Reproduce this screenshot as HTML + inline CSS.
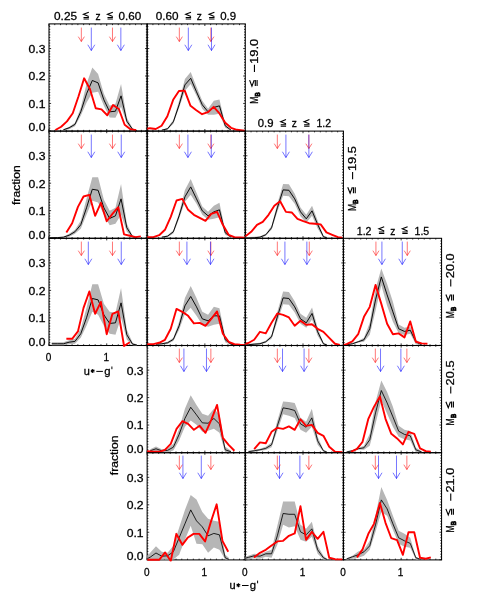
<!DOCTYPE html>
<html><head><meta charset="utf-8"><title>fraction vs u*-g'</title>
<style>
html,body{margin:0;padding:0;background:#fff;}
body{width:491px;height:596px;overflow:hidden;}
svg{display:block;}
text{font-family:"Liberation Sans",sans-serif;fill:#000;stroke:#000;stroke-width:0.26px;}
</style></head><body>
<svg width="491" height="596" viewBox="0 0 491 596">
<rect width="491" height="596" fill="#fff"/>
<defs>
<filter id="bl" x="0" y="0" width="491" height="596" filterUnits="userSpaceOnUse"><feGaussianBlur stdDeviation="0.32"/></filter>
<clipPath id="c11"><rect x="48.8" y="22.9" width="99.44" height="109.8"/></clipPath>
<clipPath id="c12"><rect x="146.94" y="22.9" width="99.44" height="109.8"/></clipPath>
<clipPath id="c21"><rect x="48.8" y="130.1" width="99.44" height="109.8"/></clipPath>
<clipPath id="c22"><rect x="146.94" y="130.1" width="99.44" height="109.8"/></clipPath>
<clipPath id="c23"><rect x="245.08" y="130.1" width="99.44" height="109.8"/></clipPath>
<clipPath id="c31"><rect x="48.8" y="237.3" width="99.44" height="109.8"/></clipPath>
<clipPath id="c32"><rect x="146.94" y="237.3" width="99.44" height="109.8"/></clipPath>
<clipPath id="c33"><rect x="245.08" y="237.3" width="99.44" height="109.8"/></clipPath>
<clipPath id="c34"><rect x="343.22" y="237.3" width="99.44" height="109.8"/></clipPath>
<clipPath id="c42"><rect x="146.94" y="344.5" width="99.44" height="109.8"/></clipPath>
<clipPath id="c43"><rect x="245.08" y="344.5" width="99.44" height="109.8"/></clipPath>
<clipPath id="c44"><rect x="343.22" y="344.5" width="99.44" height="109.8"/></clipPath>
<clipPath id="c52"><rect x="146.94" y="451.7" width="99.44" height="109.8"/></clipPath>
<clipPath id="c53"><rect x="245.08" y="451.7" width="99.44" height="109.8"/></clipPath>
<clipPath id="c54"><rect x="343.22" y="451.7" width="99.44" height="109.8"/></clipPath>
</defs>
<g filter="url(#bl)">
<rect x="49" y="23.9" width="98.14" height="107.2" fill="none" stroke="#000" stroke-width="1.05"/>
<path d="M49 23.9v2.1M49 131.1v-2.1M54.77 23.9v1.25M54.77 131.1v-1.25M60.55 23.9v1.25M60.55 131.1v-1.25M66.32 23.9v1.25M66.32 131.1v-1.25M72.09 23.9v1.25M72.09 131.1v-1.25M77.86 23.9v1.25M77.86 131.1v-1.25M83.64 23.9v1.25M83.64 131.1v-1.25M89.41 23.9v1.25M89.41 131.1v-1.25M95.18 23.9v1.25M95.18 131.1v-1.25M100.96 23.9v1.25M100.96 131.1v-1.25M106.73 23.9v2.1M106.73 131.1v-2.1M112.5 23.9v1.25M112.5 131.1v-1.25M118.28 23.9v1.25M118.28 131.1v-1.25M124.05 23.9v1.25M124.05 131.1v-1.25M129.82 23.9v1.25M129.82 131.1v-1.25M135.59 23.9v1.25M135.59 131.1v-1.25M141.37 23.9v1.25M141.37 131.1v-1.25M147.14 23.9v1.25M147.14 131.1v-1.25M49 130.9h2.1M147.14 130.9h-2.1M49 128.16h1.25M147.14 128.16h-1.25M49 125.41h1.25M147.14 125.41h-1.25M49 122.67h1.25M147.14 122.67h-1.25M49 119.92h1.25M147.14 119.92h-1.25M49 117.18h1.25M147.14 117.18h-1.25M49 114.43h1.25M147.14 114.43h-1.25M49 111.69h1.25M147.14 111.69h-1.25M49 108.94h1.25M147.14 108.94h-1.25M49 106.2h1.25M147.14 106.2h-1.25M49 103.45h2.1M147.14 103.45h-2.1M49 100.71h1.25M147.14 100.71h-1.25M49 97.96h1.25M147.14 97.96h-1.25M49 95.22h1.25M147.14 95.22h-1.25M49 92.47h1.25M147.14 92.47h-1.25M49 89.73h1.25M147.14 89.73h-1.25M49 86.98h1.25M147.14 86.98h-1.25M49 84.23h1.25M147.14 84.23h-1.25M49 81.49h1.25M147.14 81.49h-1.25M49 78.75h1.25M147.14 78.75h-1.25M49 76h2.1M147.14 76h-2.1M49 73.26h1.25M147.14 73.26h-1.25M49 70.51h1.25M147.14 70.51h-1.25M49 67.77h1.25M147.14 67.77h-1.25M49 65.02h1.25M147.14 65.02h-1.25M49 62.28h1.25M147.14 62.28h-1.25M49 59.53h1.25M147.14 59.53h-1.25M49 56.78h1.25M147.14 56.78h-1.25M49 54.04h1.25M147.14 54.04h-1.25M49 51.3h1.25M147.14 51.3h-1.25M49 48.55h2.1M147.14 48.55h-2.1M49 45.81h1.25M147.14 45.81h-1.25M49 43.06h1.25M147.14 43.06h-1.25M49 40.31h1.25M147.14 40.31h-1.25M49 37.57h1.25M147.14 37.57h-1.25M49 34.83h1.25M147.14 34.83h-1.25M49 32.08h1.25M147.14 32.08h-1.25M49 29.34h1.25M147.14 29.34h-1.25M49 26.59h1.25M147.14 26.59h-1.25" stroke="#000" stroke-width="0.8" fill="none"/>
<g clip-path="url(#c11)">
<polygon points="63.37,129.38 69.16,126.79 74.95,122.8 80.74,107.83 86.52,83.88 92.31,67.51 98.1,73.9 103.89,93.86 109.68,105.83 115.46,103.84 121.05,83.88 126.84,117.81 132.63,128.19 136.82,130.18 136.82,130.98 132.63,130.38 126.84,123.8 121.05,106.83 115.46,117.81 109.68,117.41 103.89,105.83 98.1,91.86 92.31,92.86 86.52,102.84 80.74,115.81 74.95,126.19 69.16,129.19 63.37,130.58" fill="#b6b6b6"/>
<polyline points="63.37,129.78 69.16,127.79 74.95,124.4 80.74,111.82 86.52,93.86 92.31,80.48 98.1,82.88 103.89,99.85 109.68,111.82 115.46,111.22 121.05,95.85 126.84,121.2 132.63,129.38 136.82,130.58" fill="none" stroke="#000" stroke-width="0.95" stroke-linejoin="miter"/>
<polyline points="55.39,129.98 61.18,126.79 66.96,121.4 72.75,113.22 78.54,96.25 84.13,78.29 89.92,89.07 95.7,108.23 101.49,109.43 107.28,115.21 113.07,105.03 118.86,109.03 124.65,124.79 130.43,129.19 136.22,130.18" fill="none" stroke="#ff0000" stroke-width="1.9" stroke-linejoin="round" stroke-linecap="butt"/>
</g>
<path d="M81.33 27.59 V41.56 M78.28 36.66 L81.33 41.56 L84.38 36.66" fill="none" stroke="#ff0000" stroke-width="0.72" opacity="0.75"/>
<path d="M112.47 27.59 V41.56 M109.42 36.66 L112.47 41.56 L115.52 36.66" fill="none" stroke="#ff0000" stroke-width="0.72" opacity="0.75"/>
<path d="M91.31 27.59 V50.55 M87.81 44.75 L91.31 50.55 L94.81 44.75" fill="none" stroke="#0000ff" stroke-width="0.72" opacity="0.75"/>
<path d="M120.85 27.59 V50.55 M117.35 44.75 L120.85 50.55 L124.35 44.75" fill="none" stroke="#0000ff" stroke-width="0.72" opacity="0.75"/>
<rect x="147.14" y="23.9" width="98.14" height="107.2" fill="none" stroke="#000" stroke-width="1.05"/>
<path d="M147.14 23.9v2.1M147.14 131.1v-2.1M152.91 23.9v1.25M152.91 131.1v-1.25M158.69 23.9v1.25M158.69 131.1v-1.25M164.46 23.9v1.25M164.46 131.1v-1.25M170.23 23.9v1.25M170.23 131.1v-1.25M176 23.9v1.25M176 131.1v-1.25M181.78 23.9v1.25M181.78 131.1v-1.25M187.55 23.9v1.25M187.55 131.1v-1.25M193.32 23.9v1.25M193.32 131.1v-1.25M199.1 23.9v1.25M199.1 131.1v-1.25M204.87 23.9v2.1M204.87 131.1v-2.1M210.64 23.9v1.25M210.64 131.1v-1.25M216.42 23.9v1.25M216.42 131.1v-1.25M222.19 23.9v1.25M222.19 131.1v-1.25M227.96 23.9v1.25M227.96 131.1v-1.25M233.73 23.9v1.25M233.73 131.1v-1.25M239.51 23.9v1.25M239.51 131.1v-1.25M245.28 23.9v1.25M245.28 131.1v-1.25M147.14 130.9h2.1M245.28 130.9h-2.1M147.14 128.16h1.25M245.28 128.16h-1.25M147.14 125.41h1.25M245.28 125.41h-1.25M147.14 122.67h1.25M245.28 122.67h-1.25M147.14 119.92h1.25M245.28 119.92h-1.25M147.14 117.18h1.25M245.28 117.18h-1.25M147.14 114.43h1.25M245.28 114.43h-1.25M147.14 111.69h1.25M245.28 111.69h-1.25M147.14 108.94h1.25M245.28 108.94h-1.25M147.14 106.2h1.25M245.28 106.2h-1.25M147.14 103.45h2.1M245.28 103.45h-2.1M147.14 100.71h1.25M245.28 100.71h-1.25M147.14 97.96h1.25M245.28 97.96h-1.25M147.14 95.22h1.25M245.28 95.22h-1.25M147.14 92.47h1.25M245.28 92.47h-1.25M147.14 89.73h1.25M245.28 89.73h-1.25M147.14 86.98h1.25M245.28 86.98h-1.25M147.14 84.23h1.25M245.28 84.23h-1.25M147.14 81.49h1.25M245.28 81.49h-1.25M147.14 78.75h1.25M245.28 78.75h-1.25M147.14 76h2.1M245.28 76h-2.1M147.14 73.26h1.25M245.28 73.26h-1.25M147.14 70.51h1.25M245.28 70.51h-1.25M147.14 67.77h1.25M245.28 67.77h-1.25M147.14 65.02h1.25M245.28 65.02h-1.25M147.14 62.28h1.25M245.28 62.28h-1.25M147.14 59.53h1.25M245.28 59.53h-1.25M147.14 56.78h1.25M245.28 56.78h-1.25M147.14 54.04h1.25M245.28 54.04h-1.25M147.14 51.3h1.25M245.28 51.3h-1.25M147.14 48.55h2.1M245.28 48.55h-2.1M147.14 45.81h1.25M245.28 45.81h-1.25M147.14 43.06h1.25M245.28 43.06h-1.25M147.14 40.31h1.25M245.28 40.31h-1.25M147.14 37.57h1.25M245.28 37.57h-1.25M147.14 34.83h1.25M245.28 34.83h-1.25M147.14 32.08h1.25M245.28 32.08h-1.25M147.14 29.34h1.25M245.28 29.34h-1.25M147.14 26.59h1.25M245.28 26.59h-1.25" stroke="#000" stroke-width="0.8" fill="none"/>
<g clip-path="url(#c12)">
<polygon points="161.77,129.78 167.56,127.79 173.35,119.8 179.13,100.84 184.92,78.89 190.71,71.9 196.5,86.87 202.29,100.84 208.08,108.83 213.86,100.84 219.45,99.45 225.24,123.8 231.03,129.78 231.03,130.78 225.24,127.79 219.45,113.82 213.86,114.81 208.08,114.81 202.29,108.83 196.5,95.85 190.71,83.88 184.92,90.86 179.13,107.83 173.35,123.8 167.56,129.78 161.77,130.78" fill="#b6b6b6"/>
<polyline points="161.77,130.18 167.56,128.79 173.35,121.8 179.13,104.84 184.92,84.88 190.71,78.29 196.5,91.86 202.29,104.84 208.08,111.82 213.86,107.43 219.45,105.83 225.24,125.79 231.03,130.18" fill="none" stroke="#000" stroke-width="0.95" stroke-linejoin="miter"/>
<polyline points="147.2,128.79 149.99,128.19 155.78,128.99 161.57,125.79 167.36,116.21 173.15,99.85 178.93,91.06 184.72,90.66 190.51,105.83 196.3,110.22 202.09,114.22 207.88,112.22 213.66,106.83 219.45,113.42 225.24,122.8 231.03,127.79 236.82,129.78 242.6,130.38 244.8,130.58" fill="none" stroke="#ff0000" stroke-width="1.9" stroke-linejoin="round" stroke-linecap="butt"/>
</g>
<path d="M179.33 27.59 V41.56 M176.28 36.66 L179.33 41.56 L182.38 36.66" fill="none" stroke="#ff0000" stroke-width="0.72" opacity="0.75"/>
<path d="M210.87 27.59 V41.56 M207.82 36.66 L210.87 41.56 L213.92 36.66" fill="none" stroke="#ff0000" stroke-width="0.72" opacity="0.75"/>
<path d="M188.32 27.59 V50.55 M184.82 44.75 L188.32 50.55 L191.82 44.75" fill="none" stroke="#0000ff" stroke-width="0.72" opacity="0.75"/>
<path d="M211.47 27.59 V50.55 M207.97 44.75 L211.47 50.55 L214.97 44.75" fill="none" stroke="#0000ff" stroke-width="0.72" opacity="0.75"/>
<rect x="49" y="131.1" width="98.14" height="107.2" fill="none" stroke="#000" stroke-width="1.05"/>
<path d="M49 131.1v2.1M49 238.3v-2.1M54.77 131.1v1.25M54.77 238.3v-1.25M60.55 131.1v1.25M60.55 238.3v-1.25M66.32 131.1v1.25M66.32 238.3v-1.25M72.09 131.1v1.25M72.09 238.3v-1.25M77.86 131.1v1.25M77.86 238.3v-1.25M83.64 131.1v1.25M83.64 238.3v-1.25M89.41 131.1v1.25M89.41 238.3v-1.25M95.18 131.1v1.25M95.18 238.3v-1.25M100.96 131.1v1.25M100.96 238.3v-1.25M106.73 131.1v2.1M106.73 238.3v-2.1M112.5 131.1v1.25M112.5 238.3v-1.25M118.28 131.1v1.25M118.28 238.3v-1.25M124.05 131.1v1.25M124.05 238.3v-1.25M129.82 131.1v1.25M129.82 238.3v-1.25M135.59 131.1v1.25M135.59 238.3v-1.25M141.37 131.1v1.25M141.37 238.3v-1.25M147.14 131.1v1.25M147.14 238.3v-1.25M49 238.1h2.1M147.14 238.1h-2.1M49 235.36h1.25M147.14 235.36h-1.25M49 232.61h1.25M147.14 232.61h-1.25M49 229.87h1.25M147.14 229.87h-1.25M49 227.12h1.25M147.14 227.12h-1.25M49 224.38h1.25M147.14 224.38h-1.25M49 221.63h1.25M147.14 221.63h-1.25M49 218.89h1.25M147.14 218.89h-1.25M49 216.14h1.25M147.14 216.14h-1.25M49 213.4h1.25M147.14 213.4h-1.25M49 210.65h2.1M147.14 210.65h-2.1M49 207.91h1.25M147.14 207.91h-1.25M49 205.16h1.25M147.14 205.16h-1.25M49 202.42h1.25M147.14 202.42h-1.25M49 199.67h1.25M147.14 199.67h-1.25M49 196.93h1.25M147.14 196.93h-1.25M49 194.18h1.25M147.14 194.18h-1.25M49 191.44h1.25M147.14 191.44h-1.25M49 188.69h1.25M147.14 188.69h-1.25M49 185.95h1.25M147.14 185.95h-1.25M49 183.2h2.1M147.14 183.2h-2.1M49 180.46h1.25M147.14 180.46h-1.25M49 177.71h1.25M147.14 177.71h-1.25M49 174.97h1.25M147.14 174.97h-1.25M49 172.22h1.25M147.14 172.22h-1.25M49 169.48h1.25M147.14 169.48h-1.25M49 166.73h1.25M147.14 166.73h-1.25M49 163.99h1.25M147.14 163.99h-1.25M49 161.24h1.25M147.14 161.24h-1.25M49 158.5h1.25M147.14 158.5h-1.25M49 155.75h2.1M147.14 155.75h-2.1M49 153.01h1.25M147.14 153.01h-1.25M49 150.26h1.25M147.14 150.26h-1.25M49 147.52h1.25M147.14 147.52h-1.25M49 144.77h1.25M147.14 144.77h-1.25M49 142.03h1.25M147.14 142.03h-1.25M49 139.28h1.25M147.14 139.28h-1.25M49 136.54h1.25M147.14 136.54h-1.25M49 133.79h1.25M147.14 133.79h-1.25" stroke="#000" stroke-width="0.8" fill="none"/>
<g clip-path="url(#c21)">
<polygon points="49.4,237.38 57.58,236.98 63.37,236.78 69.16,233.79 74.95,229.8 80.74,220.82 86.52,198.86 92.31,177.31 98.1,177.31 103.89,199.86 109.68,210.84 115.46,207.84 121.05,183.89 126.84,223.81 132.63,235.79 136.82,237.38 136.82,237.98 132.63,237.78 126.84,231.79 121.05,214.83 115.46,223.81 109.68,225.21 103.89,214.83 98.1,202.45 92.31,200.86 86.52,214.83 80.74,228.8 74.95,233.79 69.16,236.78 63.37,237.78 57.58,238.18 49.4,238.18" fill="#b6b6b6"/>
<polyline points="49.4,237.78 57.58,237.58 63.37,237.18 69.16,235.19 74.95,231.79 80.74,224.81 86.52,207.84 92.31,189.28 98.1,190.28 103.89,207.84 109.68,218.42 115.46,215.83 121.05,198.86 126.84,227.8 132.63,236.78 136.82,237.78" fill="none" stroke="#000" stroke-width="0.95" stroke-linejoin="miter"/>
<polyline points="66.36,232.39 72.15,223.21 77.94,206.85 83.53,196.47 89.32,194.87 95.11,215.83 100.89,202.85 106.68,221.22 112.47,213.83 118.26,207.24 124.05,234.39 129.84,235.79 135.62,237.18 140.81,236.38" fill="none" stroke="#ff0000" stroke-width="1.9" stroke-linejoin="round" stroke-linecap="butt"/>
</g>
<path d="M81.33 134.59 V148.56 M78.28 143.66 L81.33 148.56 L84.38 143.66" fill="none" stroke="#ff0000" stroke-width="0.72" opacity="0.75"/>
<path d="M112.47 134.59 V148.56 M109.42 143.66 L112.47 148.56 L115.52 143.66" fill="none" stroke="#ff0000" stroke-width="0.72" opacity="0.75"/>
<path d="M91.31 134.59 V157.55 M87.81 151.75 L91.31 157.55 L94.81 151.75" fill="none" stroke="#0000ff" stroke-width="0.72" opacity="0.75"/>
<path d="M121.25 134.59 V157.55 M117.75 151.75 L121.25 157.55 L124.75 151.75" fill="none" stroke="#0000ff" stroke-width="0.72" opacity="0.75"/>
<rect x="147.14" y="131.1" width="98.14" height="107.2" fill="none" stroke="#000" stroke-width="1.05"/>
<path d="M147.14 131.1v2.1M147.14 238.3v-2.1M152.91 131.1v1.25M152.91 238.3v-1.25M158.69 131.1v1.25M158.69 238.3v-1.25M164.46 131.1v1.25M164.46 238.3v-1.25M170.23 131.1v1.25M170.23 238.3v-1.25M176 131.1v1.25M176 238.3v-1.25M181.78 131.1v1.25M181.78 238.3v-1.25M187.55 131.1v1.25M187.55 238.3v-1.25M193.32 131.1v1.25M193.32 238.3v-1.25M199.1 131.1v1.25M199.1 238.3v-1.25M204.87 131.1v2.1M204.87 238.3v-2.1M210.64 131.1v1.25M210.64 238.3v-1.25M216.42 131.1v1.25M216.42 238.3v-1.25M222.19 131.1v1.25M222.19 238.3v-1.25M227.96 131.1v1.25M227.96 238.3v-1.25M233.73 131.1v1.25M233.73 238.3v-1.25M239.51 131.1v1.25M239.51 238.3v-1.25M245.28 131.1v1.25M245.28 238.3v-1.25M147.14 238.1h2.1M245.28 238.1h-2.1M147.14 235.36h1.25M245.28 235.36h-1.25M147.14 232.61h1.25M245.28 232.61h-1.25M147.14 229.87h1.25M245.28 229.87h-1.25M147.14 227.12h1.25M245.28 227.12h-1.25M147.14 224.38h1.25M245.28 224.38h-1.25M147.14 221.63h1.25M245.28 221.63h-1.25M147.14 218.89h1.25M245.28 218.89h-1.25M147.14 216.14h1.25M245.28 216.14h-1.25M147.14 213.4h1.25M245.28 213.4h-1.25M147.14 210.65h2.1M245.28 210.65h-2.1M147.14 207.91h1.25M245.28 207.91h-1.25M147.14 205.16h1.25M245.28 205.16h-1.25M147.14 202.42h1.25M245.28 202.42h-1.25M147.14 199.67h1.25M245.28 199.67h-1.25M147.14 196.93h1.25M245.28 196.93h-1.25M147.14 194.18h1.25M245.28 194.18h-1.25M147.14 191.44h1.25M245.28 191.44h-1.25M147.14 188.69h1.25M245.28 188.69h-1.25M147.14 185.95h1.25M245.28 185.95h-1.25M147.14 183.2h2.1M245.28 183.2h-2.1M147.14 180.46h1.25M245.28 180.46h-1.25M147.14 177.71h1.25M245.28 177.71h-1.25M147.14 174.97h1.25M245.28 174.97h-1.25M147.14 172.22h1.25M245.28 172.22h-1.25M147.14 169.48h1.25M245.28 169.48h-1.25M147.14 166.73h1.25M245.28 166.73h-1.25M147.14 163.99h1.25M245.28 163.99h-1.25M147.14 161.24h1.25M245.28 161.24h-1.25M147.14 158.5h1.25M245.28 158.5h-1.25M147.14 155.75h2.1M245.28 155.75h-2.1M147.14 153.01h1.25M245.28 153.01h-1.25M147.14 150.26h1.25M245.28 150.26h-1.25M147.14 147.52h1.25M245.28 147.52h-1.25M147.14 144.77h1.25M245.28 144.77h-1.25M147.14 142.03h1.25M245.28 142.03h-1.25M147.14 139.28h1.25M245.28 139.28h-1.25M147.14 136.54h1.25M245.28 136.54h-1.25M147.14 133.79h1.25M245.28 133.79h-1.25" stroke="#000" stroke-width="0.8" fill="none"/>
<g clip-path="url(#c22)">
<polygon points="161.77,236.78 167.56,235.19 173.35,230.2 179.13,212.83 184.92,189.88 190.71,178.9 196.5,192.87 202.29,206.45 208.08,211.84 213.86,205.85 219.45,202.85 225.24,230.8 231.03,236.78 231.03,237.78 225.24,234.79 219.45,217.22 213.86,218.82 208.08,219.82 202.29,214.83 196.5,203.85 190.71,194.87 184.92,201.86 179.13,218.82 173.35,233.39 167.56,237.18 161.77,237.78" fill="#b6b6b6"/>
<polyline points="161.77,237.18 167.56,236.19 173.35,231.79 179.13,215.83 184.92,196.87 190.71,186.89 196.5,198.86 202.29,210.84 208.08,215.83 213.86,211.84 219.45,209.84 225.24,232.79 231.03,237.18" fill="none" stroke="#000" stroke-width="0.95" stroke-linejoin="miter"/>
<polyline points="147.2,237.18 153.39,237.18 159.18,235.19 164.96,229.8 170.75,216.82 176.54,200.46 182.33,198.86 188.12,209.84 193.9,214.83 199.69,217.82 205.48,220.82 211.27,213.83 217.06,211.84 222.85,224.81 228.63,234.79 234.42,237.18 240.21,237.38 244.8,237.58" fill="none" stroke="#ff0000" stroke-width="1.9" stroke-linejoin="round" stroke-linecap="butt"/>
</g>
<path d="M179.33 134.59 V148.56 M176.28 143.66 L179.33 148.56 L182.38 143.66" fill="none" stroke="#ff0000" stroke-width="0.72" opacity="0.75"/>
<path d="M210.87 134.59 V148.56 M207.82 143.66 L210.87 148.56 L213.92 143.66" fill="none" stroke="#ff0000" stroke-width="0.72" opacity="0.75"/>
<path d="M187.92 134.59 V157.55 M184.42 151.75 L187.92 157.55 L191.42 151.75" fill="none" stroke="#0000ff" stroke-width="0.72" opacity="0.75"/>
<path d="M211.27 134.59 V157.55 M207.77 151.75 L211.27 157.55 L214.77 151.75" fill="none" stroke="#0000ff" stroke-width="0.72" opacity="0.75"/>
<rect x="245.28" y="131.1" width="98.14" height="107.2" fill="none" stroke="#000" stroke-width="1.05"/>
<path d="M245.28 131.1v2.1M245.28 238.3v-2.1M251.05 131.1v1.25M251.05 238.3v-1.25M256.83 131.1v1.25M256.83 238.3v-1.25M262.6 131.1v1.25M262.6 238.3v-1.25M268.37 131.1v1.25M268.37 238.3v-1.25M274.14 131.1v1.25M274.14 238.3v-1.25M279.92 131.1v1.25M279.92 238.3v-1.25M285.69 131.1v1.25M285.69 238.3v-1.25M291.46 131.1v1.25M291.46 238.3v-1.25M297.24 131.1v1.25M297.24 238.3v-1.25M303.01 131.1v2.1M303.01 238.3v-2.1M308.78 131.1v1.25M308.78 238.3v-1.25M314.56 131.1v1.25M314.56 238.3v-1.25M320.33 131.1v1.25M320.33 238.3v-1.25M326.1 131.1v1.25M326.1 238.3v-1.25M331.87 131.1v1.25M331.87 238.3v-1.25M337.65 131.1v1.25M337.65 238.3v-1.25M343.42 131.1v1.25M343.42 238.3v-1.25M245.28 238.1h2.1M343.42 238.1h-2.1M245.28 235.36h1.25M343.42 235.36h-1.25M245.28 232.61h1.25M343.42 232.61h-1.25M245.28 229.87h1.25M343.42 229.87h-1.25M245.28 227.12h1.25M343.42 227.12h-1.25M245.28 224.38h1.25M343.42 224.38h-1.25M245.28 221.63h1.25M343.42 221.63h-1.25M245.28 218.89h1.25M343.42 218.89h-1.25M245.28 216.14h1.25M343.42 216.14h-1.25M245.28 213.4h1.25M343.42 213.4h-1.25M245.28 210.65h2.1M343.42 210.65h-2.1M245.28 207.91h1.25M343.42 207.91h-1.25M245.28 205.16h1.25M343.42 205.16h-1.25M245.28 202.42h1.25M343.42 202.42h-1.25M245.28 199.67h1.25M343.42 199.67h-1.25M245.28 196.93h1.25M343.42 196.93h-1.25M245.28 194.18h1.25M343.42 194.18h-1.25M245.28 191.44h1.25M343.42 191.44h-1.25M245.28 188.69h1.25M343.42 188.69h-1.25M245.28 185.95h1.25M343.42 185.95h-1.25M245.28 183.2h2.1M343.42 183.2h-2.1M245.28 180.46h1.25M343.42 180.46h-1.25M245.28 177.71h1.25M343.42 177.71h-1.25M245.28 174.97h1.25M343.42 174.97h-1.25M245.28 172.22h1.25M343.42 172.22h-1.25M245.28 169.48h1.25M343.42 169.48h-1.25M245.28 166.73h1.25M343.42 166.73h-1.25M245.28 163.99h1.25M343.42 163.99h-1.25M245.28 161.24h1.25M343.42 161.24h-1.25M245.28 158.5h1.25M343.42 158.5h-1.25M245.28 155.75h2.1M343.42 155.75h-2.1M245.28 153.01h1.25M343.42 153.01h-1.25M245.28 150.26h1.25M343.42 150.26h-1.25M245.28 147.52h1.25M343.42 147.52h-1.25M245.28 144.77h1.25M343.42 144.77h-1.25M245.28 142.03h1.25M343.42 142.03h-1.25M245.28 139.28h1.25M343.42 139.28h-1.25M245.28 136.54h1.25M343.42 136.54h-1.25M245.28 133.79h1.25M343.42 133.79h-1.25" stroke="#000" stroke-width="0.8" fill="none"/>
<g clip-path="url(#c23)">
<polygon points="245.4,236.98 248.39,236.98 254.18,236.78 259.97,236.19 265.76,233.79 271.55,225.81 277.33,203.85 283.12,183.89 288.91,184.29 294.7,193.87 300.49,207.44 306.27,214.83 312.06,205.85 317.65,220.42 323.44,235.79 326.83,236.78 326.83,238.58 323.44,237.78 317.65,228.4 312.06,215.83 306.27,222.81 300.49,216.23 294.7,203.85 288.91,196.27 283.12,195.87 277.33,211.84 271.55,229.8 265.76,235.79 259.97,238.18 254.18,238.58 248.39,238.58 245.4,238.58" fill="#b6b6b6"/>
<polyline points="245.4,237.98 248.39,237.98 254.18,237.78 259.97,237.18 265.76,234.79 271.55,227.8 277.33,207.84 283.12,189.88 288.91,190.28 294.7,198.86 300.49,211.84 306.27,218.82 312.06,210.84 317.65,224.41 323.44,236.78 326.83,237.78" fill="none" stroke="#000" stroke-width="0.95" stroke-linejoin="miter"/>
<polyline points="245.4,236.38 251.19,231.79 256.98,224.81 262.76,221.81 268.55,214.83 274.34,205.85 280.13,201.26 285.92,211.84 291.7,212.43 297.49,218.82 303.28,221.22 309.07,223.21 314.86,223.81 320.65,224.41 326.43,232.39 332.22,234.79 338.01,237.18 342.4,237.78" fill="none" stroke="#ff0000" stroke-width="1.9" stroke-linejoin="round" stroke-linecap="butt"/>
</g>
<path d="M277.33 134.59 V148.56 M274.28 143.66 L277.33 148.56 L280.38 143.66" fill="none" stroke="#ff0000" stroke-width="0.72" opacity="0.75"/>
<path d="M308.87 134.59 V148.56 M305.82 143.66 L308.87 148.56 L311.92 143.66" fill="none" stroke="#ff0000" stroke-width="0.72" opacity="0.75"/>
<path d="M285.92 134.59 V157.55 M282.42 151.75 L285.92 157.55 L289.42 151.75" fill="none" stroke="#0000ff" stroke-width="0.72" opacity="0.75"/>
<path d="M308.87 134.59 V157.55 M305.37 151.75 L308.87 157.55 L312.37 151.75" fill="none" stroke="#0000ff" stroke-width="0.72" opacity="0.75"/>
<rect x="49" y="238.3" width="98.14" height="107.2" fill="none" stroke="#000" stroke-width="1.05"/>
<path d="M49 238.3v2.1M49 345.5v-2.1M54.77 238.3v1.25M54.77 345.5v-1.25M60.55 238.3v1.25M60.55 345.5v-1.25M66.32 238.3v1.25M66.32 345.5v-1.25M72.09 238.3v1.25M72.09 345.5v-1.25M77.86 238.3v1.25M77.86 345.5v-1.25M83.64 238.3v1.25M83.64 345.5v-1.25M89.41 238.3v1.25M89.41 345.5v-1.25M95.18 238.3v1.25M95.18 345.5v-1.25M100.96 238.3v1.25M100.96 345.5v-1.25M106.73 238.3v2.1M106.73 345.5v-2.1M112.5 238.3v1.25M112.5 345.5v-1.25M118.28 238.3v1.25M118.28 345.5v-1.25M124.05 238.3v1.25M124.05 345.5v-1.25M129.82 238.3v1.25M129.82 345.5v-1.25M135.59 238.3v1.25M135.59 345.5v-1.25M141.37 238.3v1.25M141.37 345.5v-1.25M147.14 238.3v1.25M147.14 345.5v-1.25M49 345.3h2.1M147.14 345.3h-2.1M49 342.56h1.25M147.14 342.56h-1.25M49 339.81h1.25M147.14 339.81h-1.25M49 337.06h1.25M147.14 337.06h-1.25M49 334.32h1.25M147.14 334.32h-1.25M49 331.57h1.25M147.14 331.57h-1.25M49 328.83h1.25M147.14 328.83h-1.25M49 326.09h1.25M147.14 326.09h-1.25M49 323.34h1.25M147.14 323.34h-1.25M49 320.6h1.25M147.14 320.6h-1.25M49 317.85h2.1M147.14 317.85h-2.1M49 315.11h1.25M147.14 315.11h-1.25M49 312.36h1.25M147.14 312.36h-1.25M49 309.62h1.25M147.14 309.62h-1.25M49 306.87h1.25M147.14 306.87h-1.25M49 304.12h1.25M147.14 304.12h-1.25M49 301.38h1.25M147.14 301.38h-1.25M49 298.63h1.25M147.14 298.63h-1.25M49 295.89h1.25M147.14 295.89h-1.25M49 293.14h1.25M147.14 293.14h-1.25M49 290.4h2.1M147.14 290.4h-2.1M49 287.66h1.25M147.14 287.66h-1.25M49 284.91h1.25M147.14 284.91h-1.25M49 282.17h1.25M147.14 282.17h-1.25M49 279.42h1.25M147.14 279.42h-1.25M49 276.68h1.25M147.14 276.68h-1.25M49 273.93h1.25M147.14 273.93h-1.25M49 271.19h1.25M147.14 271.19h-1.25M49 268.44h1.25M147.14 268.44h-1.25M49 265.7h1.25M147.14 265.7h-1.25M49 262.95h2.1M147.14 262.95h-2.1M49 260.21h1.25M147.14 260.21h-1.25M49 257.46h1.25M147.14 257.46h-1.25M49 254.72h1.25M147.14 254.72h-1.25M49 251.97h1.25M147.14 251.97h-1.25M49 249.23h1.25M147.14 249.23h-1.25M49 246.48h1.25M147.14 246.48h-1.25M49 243.74h1.25M147.14 243.74h-1.25M49 240.99h1.25M147.14 240.99h-1.25" stroke="#000" stroke-width="0.8" fill="none"/>
<g clip-path="url(#c31)">
<polygon points="51.79,342.19 57.58,342.19 63.37,342.19 69.16,340.19 74.95,338.79 80.74,328.81 86.52,307.86 92.31,284.31 98.1,284.31 103.89,303.87 109.68,311.85 115.46,312.85 121.05,287.9 126.84,329.81 132.63,342.79 136.82,344.58 136.82,345.38 132.63,345.18 126.84,339.79 121.05,317.84 115.46,334.8 109.68,333.8 103.89,325.82 98.1,314.84 92.31,311.85 86.52,325.82 80.74,337.8 74.95,343.78 69.16,344.18 63.37,345.18 57.58,345.18 51.79,345.18" fill="#b6b6b6"/>
<polyline points="51.79,343.78 57.58,343.78 63.37,343.78 69.16,342.19 74.95,341.39 80.74,333.8 86.52,317.84 92.31,298.48 98.1,299.87 103.89,314.84 109.68,323.43 115.46,322.83 121.05,302.87 126.84,334.8 132.63,344.18 136.82,344.98" fill="none" stroke="#000" stroke-width="0.95" stroke-linejoin="miter"/>
<polyline points="66.36,338.79 72.15,338.79 77.94,331.41 83.53,307.86 89.32,291.49 95.11,313.85 100.89,301.87 106.68,334.2 112.47,313.85 118.26,311.45 124.05,345.98 129.84,342.19" fill="none" stroke="#ff0000" stroke-width="1.9" stroke-linejoin="round" stroke-linecap="butt"/>
</g>
<path d="M81.33 241.59 V255.56 M78.28 250.66 L81.33 255.56 L84.38 250.66" fill="none" stroke="#ff0000" stroke-width="0.72" opacity="0.75"/>
<path d="M112.47 241.59 V255.56 M109.42 250.66 L112.47 255.56 L115.52 250.66" fill="none" stroke="#ff0000" stroke-width="0.72" opacity="0.75"/>
<path d="M88.32 241.59 V264.55 M84.82 258.75 L88.32 264.55 L91.82 258.75" fill="none" stroke="#0000ff" stroke-width="0.72" opacity="0.75"/>
<path d="M121.25 241.59 V264.55 M117.75 258.75 L121.25 264.55 L124.75 258.75" fill="none" stroke="#0000ff" stroke-width="0.72" opacity="0.75"/>
<rect x="147.14" y="238.3" width="98.14" height="107.2" fill="none" stroke="#000" stroke-width="1.05"/>
<path d="M147.14 238.3v2.1M147.14 345.5v-2.1M152.91 238.3v1.25M152.91 345.5v-1.25M158.69 238.3v1.25M158.69 345.5v-1.25M164.46 238.3v1.25M164.46 345.5v-1.25M170.23 238.3v1.25M170.23 345.5v-1.25M176 238.3v1.25M176 345.5v-1.25M181.78 238.3v1.25M181.78 345.5v-1.25M187.55 238.3v1.25M187.55 345.5v-1.25M193.32 238.3v1.25M193.32 345.5v-1.25M199.1 238.3v1.25M199.1 345.5v-1.25M204.87 238.3v2.1M204.87 345.5v-2.1M210.64 238.3v1.25M210.64 345.5v-1.25M216.42 238.3v1.25M216.42 345.5v-1.25M222.19 238.3v1.25M222.19 345.5v-1.25M227.96 238.3v1.25M227.96 345.5v-1.25M233.73 238.3v1.25M233.73 345.5v-1.25M239.51 238.3v1.25M239.51 345.5v-1.25M245.28 238.3v1.25M245.28 345.5v-1.25M147.14 345.3h2.1M245.28 345.3h-2.1M147.14 342.56h1.25M245.28 342.56h-1.25M147.14 339.81h1.25M245.28 339.81h-1.25M147.14 337.06h1.25M245.28 337.06h-1.25M147.14 334.32h1.25M245.28 334.32h-1.25M147.14 331.57h1.25M245.28 331.57h-1.25M147.14 328.83h1.25M245.28 328.83h-1.25M147.14 326.09h1.25M245.28 326.09h-1.25M147.14 323.34h1.25M245.28 323.34h-1.25M147.14 320.6h1.25M245.28 320.6h-1.25M147.14 317.85h2.1M245.28 317.85h-2.1M147.14 315.11h1.25M245.28 315.11h-1.25M147.14 312.36h1.25M245.28 312.36h-1.25M147.14 309.62h1.25M245.28 309.62h-1.25M147.14 306.87h1.25M245.28 306.87h-1.25M147.14 304.12h1.25M245.28 304.12h-1.25M147.14 301.38h1.25M245.28 301.38h-1.25M147.14 298.63h1.25M245.28 298.63h-1.25M147.14 295.89h1.25M245.28 295.89h-1.25M147.14 293.14h1.25M245.28 293.14h-1.25M147.14 290.4h2.1M245.28 290.4h-2.1M147.14 287.66h1.25M245.28 287.66h-1.25M147.14 284.91h1.25M245.28 284.91h-1.25M147.14 282.17h1.25M245.28 282.17h-1.25M147.14 279.42h1.25M245.28 279.42h-1.25M147.14 276.68h1.25M245.28 276.68h-1.25M147.14 273.93h1.25M245.28 273.93h-1.25M147.14 271.19h1.25M245.28 271.19h-1.25M147.14 268.44h1.25M245.28 268.44h-1.25M147.14 265.7h1.25M245.28 265.7h-1.25M147.14 262.95h2.1M245.28 262.95h-2.1M147.14 260.21h1.25M245.28 260.21h-1.25M147.14 257.46h1.25M245.28 257.46h-1.25M147.14 254.72h1.25M245.28 254.72h-1.25M147.14 251.97h1.25M245.28 251.97h-1.25M147.14 249.23h1.25M245.28 249.23h-1.25M147.14 246.48h1.25M245.28 246.48h-1.25M147.14 243.74h1.25M245.28 243.74h-1.25M147.14 240.99h1.25M245.28 240.99h-1.25" stroke="#000" stroke-width="0.8" fill="none"/>
<g clip-path="url(#c32)">
<polygon points="155.98,343.78 161.77,343.19 167.56,341.79 173.35,337.8 179.13,321.83 184.92,297.88 190.71,285.9 196.5,297.88 202.29,311.85 208.08,314.84 213.86,306.86 219.45,308.26 225.24,336.8 231.03,343.78 234.82,344.78 234.82,345.38 231.03,344.98 225.24,342.19 219.45,323.82 213.86,324.82 208.08,326.82 202.29,324.82 196.5,315.84 190.71,307.86 184.92,313.85 179.13,329.81 173.35,340.99 167.56,343.98 161.77,344.78 155.98,344.98" fill="#b6b6b6"/>
<polyline points="155.98,344.18 161.77,343.78 167.56,342.79 173.35,339.39 179.13,325.82 184.92,305.86 190.71,296.48 196.5,306.86 202.29,318.84 208.08,320.83 213.86,315.84 219.45,315.84 225.24,339.79 231.03,344.18 234.82,344.98" fill="none" stroke="#000" stroke-width="0.95" stroke-linejoin="miter"/>
<polyline points="147.2,344.18 153.39,344.18 159.18,342.79 164.96,339.79 170.75,328.81 176.54,308.86 182.33,311.85 188.12,315.84 193.9,323.43 199.69,322.83 205.48,325.82 211.27,318.84 217.06,311.45 222.85,333.8 228.63,341.79 234.42,344.18 240.21,344.78 244.8,344.98" fill="none" stroke="#ff0000" stroke-width="1.9" stroke-linejoin="round" stroke-linecap="butt"/>
</g>
<path d="M179.33 241.59 V255.56 M176.28 250.66 L179.33 255.56 L182.38 250.66" fill="none" stroke="#ff0000" stroke-width="0.72" opacity="0.75"/>
<path d="M210.87 241.59 V255.56 M207.82 250.66 L210.87 255.56 L213.92 250.66" fill="none" stroke="#ff0000" stroke-width="0.72" opacity="0.75"/>
<path d="M186.92 241.59 V264.55 M183.42 258.75 L186.92 264.55 L190.42 258.75" fill="none" stroke="#0000ff" stroke-width="0.72" opacity="0.75"/>
<path d="M210.47 241.59 V264.55 M206.97 258.75 L210.47 264.55 L213.97 258.75" fill="none" stroke="#0000ff" stroke-width="0.72" opacity="0.75"/>
<rect x="245.28" y="238.3" width="98.14" height="107.2" fill="none" stroke="#000" stroke-width="1.05"/>
<path d="M245.28 238.3v2.1M245.28 345.5v-2.1M251.05 238.3v1.25M251.05 345.5v-1.25M256.83 238.3v1.25M256.83 345.5v-1.25M262.6 238.3v1.25M262.6 345.5v-1.25M268.37 238.3v1.25M268.37 345.5v-1.25M274.14 238.3v1.25M274.14 345.5v-1.25M279.92 238.3v1.25M279.92 345.5v-1.25M285.69 238.3v1.25M285.69 345.5v-1.25M291.46 238.3v1.25M291.46 345.5v-1.25M297.24 238.3v1.25M297.24 345.5v-1.25M303.01 238.3v2.1M303.01 345.5v-2.1M308.78 238.3v1.25M308.78 345.5v-1.25M314.56 238.3v1.25M314.56 345.5v-1.25M320.33 238.3v1.25M320.33 345.5v-1.25M326.1 238.3v1.25M326.1 345.5v-1.25M331.87 238.3v1.25M331.87 345.5v-1.25M337.65 238.3v1.25M337.65 345.5v-1.25M343.42 238.3v1.25M343.42 345.5v-1.25M245.28 345.3h2.1M343.42 345.3h-2.1M245.28 342.56h1.25M343.42 342.56h-1.25M245.28 339.81h1.25M343.42 339.81h-1.25M245.28 337.06h1.25M343.42 337.06h-1.25M245.28 334.32h1.25M343.42 334.32h-1.25M245.28 331.57h1.25M343.42 331.57h-1.25M245.28 328.83h1.25M343.42 328.83h-1.25M245.28 326.09h1.25M343.42 326.09h-1.25M245.28 323.34h1.25M343.42 323.34h-1.25M245.28 320.6h1.25M343.42 320.6h-1.25M245.28 317.85h2.1M343.42 317.85h-2.1M245.28 315.11h1.25M343.42 315.11h-1.25M245.28 312.36h1.25M343.42 312.36h-1.25M245.28 309.62h1.25M343.42 309.62h-1.25M245.28 306.87h1.25M343.42 306.87h-1.25M245.28 304.12h1.25M343.42 304.12h-1.25M245.28 301.38h1.25M343.42 301.38h-1.25M245.28 298.63h1.25M343.42 298.63h-1.25M245.28 295.89h1.25M343.42 295.89h-1.25M245.28 293.14h1.25M343.42 293.14h-1.25M245.28 290.4h2.1M343.42 290.4h-2.1M245.28 287.66h1.25M343.42 287.66h-1.25M245.28 284.91h1.25M343.42 284.91h-1.25M245.28 282.17h1.25M343.42 282.17h-1.25M245.28 279.42h1.25M343.42 279.42h-1.25M245.28 276.68h1.25M343.42 276.68h-1.25M245.28 273.93h1.25M343.42 273.93h-1.25M245.28 271.19h1.25M343.42 271.19h-1.25M245.28 268.44h1.25M343.42 268.44h-1.25M245.28 265.7h1.25M343.42 265.7h-1.25M245.28 262.95h2.1M343.42 262.95h-2.1M245.28 260.21h1.25M343.42 260.21h-1.25M245.28 257.46h1.25M343.42 257.46h-1.25M245.28 254.72h1.25M343.42 254.72h-1.25M245.28 251.97h1.25M343.42 251.97h-1.25M245.28 249.23h1.25M343.42 249.23h-1.25M245.28 246.48h1.25M343.42 246.48h-1.25M245.28 243.74h1.25M343.42 243.74h-1.25M245.28 240.99h1.25M343.42 240.99h-1.25" stroke="#000" stroke-width="0.8" fill="none"/>
<g clip-path="url(#c33)">
<polygon points="245.4,343.98 248.39,343.78 254.18,343.19 259.97,342.79 265.76,340.79 271.55,334.8 277.33,311.85 283.12,291.49 288.91,292.09 294.7,301.27 300.49,313.85 306.27,317.84 312.06,307.46 317.65,327.82 323.44,342.79 326.83,343.98 326.83,345.58 323.44,344.78 317.65,335.8 312.06,319.43 306.27,327.82 300.49,323.82 294.7,312.45 288.91,304.86 283.12,304.26 277.33,321.83 271.55,338.79 265.76,342.79 259.97,344.78 254.18,345.18 248.39,345.58 245.4,345.58" fill="#b6b6b6"/>
<polyline points="245.4,344.98 248.39,344.78 254.18,344.18 259.97,343.78 265.76,341.79 271.55,336.8 277.33,316.84 283.12,297.88 288.91,298.48 294.7,306.86 300.49,318.84 306.27,322.83 312.06,313.45 317.65,331.81 323.44,343.78 326.83,344.98" fill="none" stroke="#000" stroke-width="0.95" stroke-linejoin="miter"/>
<polyline points="245.4,344.18 248.39,342.99 254.18,339.79 259.97,331.81 265.76,333.41 271.55,322.83 277.33,313.45 283.12,314.84 288.91,317.44 294.7,325.82 300.49,320.83 306.08,324.82 311.86,324.22 317.65,328.81 323.44,331.81 329.23,337.8 335.02,343.78 339.81,344.98" fill="none" stroke="#ff0000" stroke-width="1.9" stroke-linejoin="round" stroke-linecap="butt"/>
</g>
<path d="M277.33 241.59 V255.56 M274.28 250.66 L277.33 255.56 L280.38 250.66" fill="none" stroke="#ff0000" stroke-width="0.72" opacity="0.75"/>
<path d="M309.27 241.59 V255.56 M306.22 250.66 L309.27 255.56 L312.32 250.66" fill="none" stroke="#ff0000" stroke-width="0.72" opacity="0.75"/>
<path d="M284.92 241.59 V264.55 M281.42 258.75 L284.92 264.55 L288.42 258.75" fill="none" stroke="#0000ff" stroke-width="0.72" opacity="0.75"/>
<path d="M306.87 241.59 V264.55 M303.37 258.75 L306.87 264.55 L310.37 258.75" fill="none" stroke="#0000ff" stroke-width="0.72" opacity="0.75"/>
<rect x="343.42" y="238.3" width="98.14" height="107.2" fill="none" stroke="#000" stroke-width="1.05"/>
<path d="M343.42 238.3v2.1M343.42 345.5v-2.1M349.19 238.3v1.25M349.19 345.5v-1.25M354.97 238.3v1.25M354.97 345.5v-1.25M360.74 238.3v1.25M360.74 345.5v-1.25M366.51 238.3v1.25M366.51 345.5v-1.25M372.28 238.3v1.25M372.28 345.5v-1.25M378.06 238.3v1.25M378.06 345.5v-1.25M383.83 238.3v1.25M383.83 345.5v-1.25M389.6 238.3v1.25M389.6 345.5v-1.25M395.38 238.3v1.25M395.38 345.5v-1.25M401.15 238.3v2.1M401.15 345.5v-2.1M406.92 238.3v1.25M406.92 345.5v-1.25M412.7 238.3v1.25M412.7 345.5v-1.25M418.47 238.3v1.25M418.47 345.5v-1.25M424.24 238.3v1.25M424.24 345.5v-1.25M430.01 238.3v1.25M430.01 345.5v-1.25M435.79 238.3v1.25M435.79 345.5v-1.25M441.56 238.3v1.25M441.56 345.5v-1.25M343.42 345.3h2.1M441.56 345.3h-2.1M343.42 342.56h1.25M441.56 342.56h-1.25M343.42 339.81h1.25M441.56 339.81h-1.25M343.42 337.06h1.25M441.56 337.06h-1.25M343.42 334.32h1.25M441.56 334.32h-1.25M343.42 331.57h1.25M441.56 331.57h-1.25M343.42 328.83h1.25M441.56 328.83h-1.25M343.42 326.09h1.25M441.56 326.09h-1.25M343.42 323.34h1.25M441.56 323.34h-1.25M343.42 320.6h1.25M441.56 320.6h-1.25M343.42 317.85h2.1M441.56 317.85h-2.1M343.42 315.11h1.25M441.56 315.11h-1.25M343.42 312.36h1.25M441.56 312.36h-1.25M343.42 309.62h1.25M441.56 309.62h-1.25M343.42 306.87h1.25M441.56 306.87h-1.25M343.42 304.12h1.25M441.56 304.12h-1.25M343.42 301.38h1.25M441.56 301.38h-1.25M343.42 298.63h1.25M441.56 298.63h-1.25M343.42 295.89h1.25M441.56 295.89h-1.25M343.42 293.14h1.25M441.56 293.14h-1.25M343.42 290.4h2.1M441.56 290.4h-2.1M343.42 287.66h1.25M441.56 287.66h-1.25M343.42 284.91h1.25M441.56 284.91h-1.25M343.42 282.17h1.25M441.56 282.17h-1.25M343.42 279.42h1.25M441.56 279.42h-1.25M343.42 276.68h1.25M441.56 276.68h-1.25M343.42 273.93h1.25M441.56 273.93h-1.25M343.42 271.19h1.25M441.56 271.19h-1.25M343.42 268.44h1.25M441.56 268.44h-1.25M343.42 265.7h1.25M441.56 265.7h-1.25M343.42 262.95h2.1M441.56 262.95h-2.1M343.42 260.21h1.25M441.56 260.21h-1.25M343.42 257.46h1.25M441.56 257.46h-1.25M343.42 254.72h1.25M441.56 254.72h-1.25M343.42 251.97h1.25M441.56 251.97h-1.25M343.42 249.23h1.25M441.56 249.23h-1.25M343.42 246.48h1.25M441.56 246.48h-1.25M343.42 243.74h1.25M441.56 243.74h-1.25M343.42 240.99h1.25M441.56 240.99h-1.25" stroke="#000" stroke-width="0.8" fill="none"/>
<g clip-path="url(#c34)">
<polygon points="346.59,343.98 352.38,342.99 358.17,340.99 363.96,337.8 369.75,322.83 375.53,288.9 381.32,268.54 387.11,283.91 392.9,301.87 398.69,324.42 404.47,327.82 410.26,326.62 415.85,339.39 421.64,343.98 421.64,345.58 415.85,344.18 410.26,333.8 404.47,335 398.69,333.21 392.9,321.83 387.11,305.86 381.32,285.3 375.53,310.85 369.75,334.8 363.96,341.79 358.17,342.59 352.38,344.58 346.59,345.58" fill="#b6b6b6"/>
<polyline points="346.59,344.78 352.38,343.78 358.17,341.79 363.96,339.79 369.75,328.81 375.53,299.87 381.32,276.92 387.11,294.88 392.9,311.85 398.69,328.81 404.47,331.41 410.26,330.21 415.85,341.79 421.64,344.78" fill="none" stroke="#000" stroke-width="0.95" stroke-linejoin="miter"/>
<polyline points="343.8,344.98 346.59,344.18 352.38,341.39 358.17,334.2 363.96,316.84 369.75,306.86 375.53,284.9 381.32,303.87 387.11,323.82 392.9,334.2 398.69,333.41 404.47,337.4 410.26,321.43 415.85,341.79 421.64,343.38 427.43,343.78" fill="none" stroke="#ff0000" stroke-width="1.9" stroke-linejoin="round" stroke-linecap="butt"/>
</g>
<path d="M375.93 241.59 V255.56 M372.88 250.66 L375.93 255.56 L378.98 250.66" fill="none" stroke="#ff0000" stroke-width="0.72" opacity="0.75"/>
<path d="M407.27 241.59 V255.56 M404.22 250.66 L407.27 255.56 L410.32 250.66" fill="none" stroke="#ff0000" stroke-width="0.72" opacity="0.75"/>
<path d="M381.92 241.59 V264.55 M378.42 258.75 L381.92 264.55 L385.42 258.75" fill="none" stroke="#0000ff" stroke-width="0.72" opacity="0.75"/>
<path d="M402.28 241.59 V264.55 M398.78 258.75 L402.28 264.55 L405.78 258.75" fill="none" stroke="#0000ff" stroke-width="0.72" opacity="0.75"/>
<rect x="147.14" y="345.5" width="98.14" height="107.2" fill="none" stroke="#000" stroke-width="1.05"/>
<path d="M147.14 345.5v2.1M147.14 452.7v-2.1M152.91 345.5v1.25M152.91 452.7v-1.25M158.69 345.5v1.25M158.69 452.7v-1.25M164.46 345.5v1.25M164.46 452.7v-1.25M170.23 345.5v1.25M170.23 452.7v-1.25M176 345.5v1.25M176 452.7v-1.25M181.78 345.5v1.25M181.78 452.7v-1.25M187.55 345.5v1.25M187.55 452.7v-1.25M193.32 345.5v1.25M193.32 452.7v-1.25M199.1 345.5v1.25M199.1 452.7v-1.25M204.87 345.5v2.1M204.87 452.7v-2.1M210.64 345.5v1.25M210.64 452.7v-1.25M216.42 345.5v1.25M216.42 452.7v-1.25M222.19 345.5v1.25M222.19 452.7v-1.25M227.96 345.5v1.25M227.96 452.7v-1.25M233.73 345.5v1.25M233.73 452.7v-1.25M239.51 345.5v1.25M239.51 452.7v-1.25M245.28 345.5v1.25M245.28 452.7v-1.25M147.14 452.5h2.1M245.28 452.5h-2.1M147.14 449.75h1.25M245.28 449.75h-1.25M147.14 447.01h1.25M245.28 447.01h-1.25M147.14 444.26h1.25M245.28 444.26h-1.25M147.14 441.52h1.25M245.28 441.52h-1.25M147.14 438.77h1.25M245.28 438.77h-1.25M147.14 436.03h1.25M245.28 436.03h-1.25M147.14 433.28h1.25M245.28 433.28h-1.25M147.14 430.54h1.25M245.28 430.54h-1.25M147.14 427.8h1.25M245.28 427.8h-1.25M147.14 425.05h2.1M245.28 425.05h-2.1M147.14 422.31h1.25M245.28 422.31h-1.25M147.14 419.56h1.25M245.28 419.56h-1.25M147.14 416.81h1.25M245.28 416.81h-1.25M147.14 414.07h1.25M245.28 414.07h-1.25M147.14 411.32h1.25M245.28 411.32h-1.25M147.14 408.58h1.25M245.28 408.58h-1.25M147.14 405.83h1.25M245.28 405.83h-1.25M147.14 403.09h1.25M245.28 403.09h-1.25M147.14 400.35h1.25M245.28 400.35h-1.25M147.14 397.6h2.1M245.28 397.6h-2.1M147.14 394.86h1.25M245.28 394.86h-1.25M147.14 392.11h1.25M245.28 392.11h-1.25M147.14 389.37h1.25M245.28 389.37h-1.25M147.14 386.62h1.25M245.28 386.62h-1.25M147.14 383.88h1.25M245.28 383.88h-1.25M147.14 381.13h1.25M245.28 381.13h-1.25M147.14 378.38h1.25M245.28 378.38h-1.25M147.14 375.64h1.25M245.28 375.64h-1.25M147.14 372.89h1.25M245.28 372.89h-1.25M147.14 370.15h2.1M245.28 370.15h-2.1M147.14 367.4h1.25M245.28 367.4h-1.25M147.14 364.66h1.25M245.28 364.66h-1.25M147.14 361.91h1.25M245.28 361.91h-1.25M147.14 359.17h1.25M245.28 359.17h-1.25M147.14 356.43h1.25M245.28 356.43h-1.25M147.14 353.68h1.25M245.28 353.68h-1.25M147.14 350.94h1.25M245.28 350.94h-1.25M147.14 348.19h1.25M245.28 348.19h-1.25" stroke="#000" stroke-width="0.8" fill="none"/>
<g clip-path="url(#c42)">
<polygon points="150.19,449.19 155.98,446.39 161.77,449.19 167.56,448.39 173.35,443.8 179.13,428.83 184.92,408.87 190.71,395.3 196.5,404.88 202.29,413.86 208.08,415.86 213.86,408.87 219.45,414.86 225.24,446.79 231.03,450.78 231.03,452.58 225.24,452.38 219.45,432.82 213.86,428.83 208.08,430.82 202.29,431.82 196.5,424.84 190.71,420.45 184.92,426.83 179.13,440.41 173.35,450.38 167.56,452.38 161.77,452.38 155.98,451.58 150.19,452.38" fill="#b6b6b6"/>
<polyline points="150.19,450.78 155.98,448.79 161.77,450.78 167.56,450.38 173.35,447.19 179.13,434.42 184.92,418.45 190.71,407.27 196.5,414.86 202.29,422.84 208.08,423.24 213.86,418.45 219.45,423.84 225.24,449.79 231.03,451.78" fill="none" stroke="#000" stroke-width="0.85" stroke-linejoin="miter"/>
<polyline points="147.2,451.18 153.39,451.78 159.37,451.78 164.96,449.79 170.75,443.8 176.54,428.83 182.33,421.24 188.12,423.84 193.9,429.83 199.69,425.84 205.48,432.82 211.27,419.85 217.06,404.88 222.85,437.81 228.63,444.8 234.42,450.78" fill="none" stroke="#ff0000" stroke-width="1.9" stroke-linejoin="round" stroke-linecap="butt"/>
</g>
<path d="M179.33 348.59 V362.56 M176.28 357.66 L179.33 362.56 L182.38 357.66" fill="none" stroke="#ff0000" stroke-width="0.72" opacity="0.75"/>
<path d="M210.87 348.59 V362.56 M207.82 357.66 L210.87 362.56 L213.92 357.66" fill="none" stroke="#ff0000" stroke-width="0.72" opacity="0.75"/>
<path d="M183.92 348.59 V371.55 M180.42 365.75 L183.92 371.55 L187.42 365.75" fill="none" stroke="#0000ff" stroke-width="0.72" opacity="0.75"/>
<path d="M206.48 348.59 V371.55 M202.98 365.75 L206.48 371.55 L209.98 365.75" fill="none" stroke="#0000ff" stroke-width="0.72" opacity="0.75"/>
<rect x="245.28" y="345.5" width="98.14" height="107.2" fill="none" stroke="#000" stroke-width="1.05"/>
<path d="M245.28 345.5v2.1M245.28 452.7v-2.1M251.05 345.5v1.25M251.05 452.7v-1.25M256.83 345.5v1.25M256.83 452.7v-1.25M262.6 345.5v1.25M262.6 452.7v-1.25M268.37 345.5v1.25M268.37 452.7v-1.25M274.14 345.5v1.25M274.14 452.7v-1.25M279.92 345.5v1.25M279.92 452.7v-1.25M285.69 345.5v1.25M285.69 452.7v-1.25M291.46 345.5v1.25M291.46 452.7v-1.25M297.24 345.5v1.25M297.24 452.7v-1.25M303.01 345.5v2.1M303.01 452.7v-2.1M308.78 345.5v1.25M308.78 452.7v-1.25M314.56 345.5v1.25M314.56 452.7v-1.25M320.33 345.5v1.25M320.33 452.7v-1.25M326.1 345.5v1.25M326.1 452.7v-1.25M331.87 345.5v1.25M331.87 452.7v-1.25M337.65 345.5v1.25M337.65 452.7v-1.25M343.42 345.5v1.25M343.42 452.7v-1.25M245.28 452.5h2.1M343.42 452.5h-2.1M245.28 449.75h1.25M343.42 449.75h-1.25M245.28 447.01h1.25M343.42 447.01h-1.25M245.28 444.26h1.25M343.42 444.26h-1.25M245.28 441.52h1.25M343.42 441.52h-1.25M245.28 438.77h1.25M343.42 438.77h-1.25M245.28 436.03h1.25M343.42 436.03h-1.25M245.28 433.28h1.25M343.42 433.28h-1.25M245.28 430.54h1.25M343.42 430.54h-1.25M245.28 427.8h1.25M343.42 427.8h-1.25M245.28 425.05h2.1M343.42 425.05h-2.1M245.28 422.31h1.25M343.42 422.31h-1.25M245.28 419.56h1.25M343.42 419.56h-1.25M245.28 416.81h1.25M343.42 416.81h-1.25M245.28 414.07h1.25M343.42 414.07h-1.25M245.28 411.32h1.25M343.42 411.32h-1.25M245.28 408.58h1.25M343.42 408.58h-1.25M245.28 405.83h1.25M343.42 405.83h-1.25M245.28 403.09h1.25M343.42 403.09h-1.25M245.28 400.35h1.25M343.42 400.35h-1.25M245.28 397.6h2.1M343.42 397.6h-2.1M245.28 394.86h1.25M343.42 394.86h-1.25M245.28 392.11h1.25M343.42 392.11h-1.25M245.28 389.37h1.25M343.42 389.37h-1.25M245.28 386.62h1.25M343.42 386.62h-1.25M245.28 383.88h1.25M343.42 383.88h-1.25M245.28 381.13h1.25M343.42 381.13h-1.25M245.28 378.38h1.25M343.42 378.38h-1.25M245.28 375.64h1.25M343.42 375.64h-1.25M245.28 372.89h1.25M343.42 372.89h-1.25M245.28 370.15h2.1M343.42 370.15h-2.1M245.28 367.4h1.25M343.42 367.4h-1.25M245.28 364.66h1.25M343.42 364.66h-1.25M245.28 361.91h1.25M343.42 361.91h-1.25M245.28 359.17h1.25M343.42 359.17h-1.25M245.28 356.43h1.25M343.42 356.43h-1.25M245.28 353.68h1.25M343.42 353.68h-1.25M245.28 350.94h1.25M343.42 350.94h-1.25M245.28 348.19h1.25M343.42 348.19h-1.25" stroke="#000" stroke-width="0.8" fill="none"/>
<g clip-path="url(#c43)">
<polygon points="248.39,450.78 254.18,449.79 259.97,448.79 265.76,446.79 271.55,442.4 277.33,420.85 283.12,401.48 288.91,401.88 294.7,402.88 300.49,417.85 306.08,421.64 311.86,408.87 317.65,436.81 323.44,449.79 326.83,451.18 326.83,452.58 323.44,451.78 317.65,444.8 311.86,426.83 306.08,432.82 300.49,429.83 294.7,418.05 288.91,415.86 283.12,414.26 277.33,430.82 271.55,447.19 265.76,449.99 259.97,450.78 254.18,451.78 248.39,452.58" fill="#b6b6b6"/>
<polyline points="248.39,451.78 254.18,450.78 259.97,449.79 265.76,448.39 271.55,444.8 277.33,425.84 283.12,407.87 288.91,408.87 294.7,410.47 300.49,423.84 306.08,427.23 311.86,417.85 317.65,440.8 323.44,450.78 326.83,452.18" fill="none" stroke="#000" stroke-width="0.85" stroke-linejoin="miter"/>
<polyline points="254.18,449.19 259.97,442.4 265.76,443.2 271.55,431.82 277.33,427.83 283.12,428.83 288.91,426.43 294.7,429.83 300.49,419.25 306.08,425.84 311.86,424.84 317.65,432.82 323.44,435.81 329.23,446.79 335.02,451.78 342.4,452.18" fill="none" stroke="#ff0000" stroke-width="1.9" stroke-linejoin="round" stroke-linecap="butt"/>
</g>
<path d="M277.33 348.59 V362.56 M274.28 357.66 L277.33 362.56 L280.38 357.66" fill="none" stroke="#ff0000" stroke-width="0.72" opacity="0.75"/>
<path d="M308.87 348.59 V362.56 M305.82 357.66 L308.87 362.56 L311.92 357.66" fill="none" stroke="#ff0000" stroke-width="0.72" opacity="0.75"/>
<path d="M282.52 348.59 V371.55 M279.02 365.75 L282.52 371.55 L286.02 365.75" fill="none" stroke="#0000ff" stroke-width="0.72" opacity="0.75"/>
<path d="M304.08 348.59 V371.55 M300.58 365.75 L304.08 371.55 L307.58 365.75" fill="none" stroke="#0000ff" stroke-width="0.72" opacity="0.75"/>
<rect x="343.42" y="345.5" width="98.14" height="107.2" fill="none" stroke="#000" stroke-width="1.05"/>
<path d="M343.42 345.5v2.1M343.42 452.7v-2.1M349.19 345.5v1.25M349.19 452.7v-1.25M354.97 345.5v1.25M354.97 452.7v-1.25M360.74 345.5v1.25M360.74 452.7v-1.25M366.51 345.5v1.25M366.51 452.7v-1.25M372.28 345.5v1.25M372.28 452.7v-1.25M378.06 345.5v1.25M378.06 452.7v-1.25M383.83 345.5v1.25M383.83 452.7v-1.25M389.6 345.5v1.25M389.6 452.7v-1.25M395.38 345.5v1.25M395.38 452.7v-1.25M401.15 345.5v2.1M401.15 452.7v-2.1M406.92 345.5v1.25M406.92 452.7v-1.25M412.7 345.5v1.25M412.7 452.7v-1.25M418.47 345.5v1.25M418.47 452.7v-1.25M424.24 345.5v1.25M424.24 452.7v-1.25M430.01 345.5v1.25M430.01 452.7v-1.25M435.79 345.5v1.25M435.79 452.7v-1.25M441.56 345.5v1.25M441.56 452.7v-1.25M343.42 452.5h2.1M441.56 452.5h-2.1M343.42 449.75h1.25M441.56 449.75h-1.25M343.42 447.01h1.25M441.56 447.01h-1.25M343.42 444.26h1.25M441.56 444.26h-1.25M343.42 441.52h1.25M441.56 441.52h-1.25M343.42 438.77h1.25M441.56 438.77h-1.25M343.42 436.03h1.25M441.56 436.03h-1.25M343.42 433.28h1.25M441.56 433.28h-1.25M343.42 430.54h1.25M441.56 430.54h-1.25M343.42 427.8h1.25M441.56 427.8h-1.25M343.42 425.05h2.1M441.56 425.05h-2.1M343.42 422.31h1.25M441.56 422.31h-1.25M343.42 419.56h1.25M441.56 419.56h-1.25M343.42 416.81h1.25M441.56 416.81h-1.25M343.42 414.07h1.25M441.56 414.07h-1.25M343.42 411.32h1.25M441.56 411.32h-1.25M343.42 408.58h1.25M441.56 408.58h-1.25M343.42 405.83h1.25M441.56 405.83h-1.25M343.42 403.09h1.25M441.56 403.09h-1.25M343.42 400.35h1.25M441.56 400.35h-1.25M343.42 397.6h2.1M441.56 397.6h-2.1M343.42 394.86h1.25M441.56 394.86h-1.25M343.42 392.11h1.25M441.56 392.11h-1.25M343.42 389.37h1.25M441.56 389.37h-1.25M343.42 386.62h1.25M441.56 386.62h-1.25M343.42 383.88h1.25M441.56 383.88h-1.25M343.42 381.13h1.25M441.56 381.13h-1.25M343.42 378.38h1.25M441.56 378.38h-1.25M343.42 375.64h1.25M441.56 375.64h-1.25M343.42 372.89h1.25M441.56 372.89h-1.25M343.42 370.15h2.1M441.56 370.15h-2.1M343.42 367.4h1.25M441.56 367.4h-1.25M343.42 364.66h1.25M441.56 364.66h-1.25M343.42 361.91h1.25M441.56 361.91h-1.25M343.42 359.17h1.25M441.56 359.17h-1.25M343.42 356.43h1.25M441.56 356.43h-1.25M343.42 353.68h1.25M441.56 353.68h-1.25M343.42 350.94h1.25M441.56 350.94h-1.25M343.42 348.19h1.25M441.56 348.19h-1.25" stroke="#000" stroke-width="0.8" fill="none"/>
<g clip-path="url(#c44)">
<polygon points="346.59,451.18 352.38,449.99 358.17,447.99 363.96,445.79 369.75,433.82 375.53,401.88 381.32,380.53 387.11,391.9 392.9,406.87 398.69,425.64 404.47,429.63 410.26,431.02 415.85,447.39 421.64,451.18 421.64,452.58 415.85,452.18 410.26,440.6 404.47,439.21 398.69,436.81 392.9,426.83 387.11,413.86 381.32,400.49 375.53,423.84 369.75,445.79 363.96,449.79 358.17,449.59 352.38,451.58 346.59,452.58" fill="#b6b6b6"/>
<polyline points="346.59,451.98 352.38,450.78 358.17,448.79 363.96,447.79 369.75,439.81 375.53,412.86 381.32,390.51 387.11,402.88 392.9,416.85 398.69,431.22 404.47,434.42 410.26,435.81 415.85,449.79 421.64,451.98" fill="none" stroke="#000" stroke-width="0.85" stroke-linejoin="miter"/>
<polyline points="350.98,451.78 356.97,448.79 362.56,441.8 368.35,418.85 373.94,406.87 379.92,396.49 385.51,418.85 391.3,433.82 397.09,438.41 402.88,444.4 408.47,431.82 414.25,433.82 420.04,448.39 425.83,451.18 430.82,451.78" fill="none" stroke="#ff0000" stroke-width="1.9" stroke-linejoin="round" stroke-linecap="butt"/>
</g>
<path d="M375.33 348.59 V362.56 M372.28 357.66 L375.33 362.56 L378.38 357.66" fill="none" stroke="#ff0000" stroke-width="0.72" opacity="0.75"/>
<path d="M406.87 348.59 V362.56 M403.82 357.66 L406.87 362.56 L409.92 357.66" fill="none" stroke="#ff0000" stroke-width="0.72" opacity="0.75"/>
<path d="M380.52 348.59 V371.55 M377.02 365.75 L380.52 371.55 L384.02 365.75" fill="none" stroke="#0000ff" stroke-width="0.72" opacity="0.75"/>
<path d="M400.88 348.59 V371.55 M397.38 365.75 L400.88 371.55 L404.38 365.75" fill="none" stroke="#0000ff" stroke-width="0.72" opacity="0.75"/>
<rect x="147.14" y="452.7" width="98.14" height="107.2" fill="none" stroke="#000" stroke-width="1.05"/>
<path d="M147.14 452.7v2.1M147.14 559.9v-2.1M152.91 452.7v1.25M152.91 559.9v-1.25M158.69 452.7v1.25M158.69 559.9v-1.25M164.46 452.7v1.25M164.46 559.9v-1.25M170.23 452.7v1.25M170.23 559.9v-1.25M176 452.7v1.25M176 559.9v-1.25M181.78 452.7v1.25M181.78 559.9v-1.25M187.55 452.7v1.25M187.55 559.9v-1.25M193.32 452.7v1.25M193.32 559.9v-1.25M199.1 452.7v1.25M199.1 559.9v-1.25M204.87 452.7v2.1M204.87 559.9v-2.1M210.64 452.7v1.25M210.64 559.9v-1.25M216.42 452.7v1.25M216.42 559.9v-1.25M222.19 452.7v1.25M222.19 559.9v-1.25M227.96 452.7v1.25M227.96 559.9v-1.25M233.73 452.7v1.25M233.73 559.9v-1.25M239.51 452.7v1.25M239.51 559.9v-1.25M245.28 452.7v1.25M245.28 559.9v-1.25M147.14 559.7h2.1M245.28 559.7h-2.1M147.14 556.95h1.25M245.28 556.95h-1.25M147.14 554.21h1.25M245.28 554.21h-1.25M147.14 551.46h1.25M245.28 551.46h-1.25M147.14 548.72h1.25M245.28 548.72h-1.25M147.14 545.97h1.25M245.28 545.97h-1.25M147.14 543.23h1.25M245.28 543.23h-1.25M147.14 540.48h1.25M245.28 540.48h-1.25M147.14 537.74h1.25M245.28 537.74h-1.25M147.14 534.99h1.25M245.28 534.99h-1.25M147.14 532.25h2.1M245.28 532.25h-2.1M147.14 529.5h1.25M245.28 529.5h-1.25M147.14 526.76h1.25M245.28 526.76h-1.25M147.14 524.01h1.25M245.28 524.01h-1.25M147.14 521.27h1.25M245.28 521.27h-1.25M147.14 518.52h1.25M245.28 518.52h-1.25M147.14 515.78h1.25M245.28 515.78h-1.25M147.14 513.03h1.25M245.28 513.03h-1.25M147.14 510.29h1.25M245.28 510.29h-1.25M147.14 507.54h1.25M245.28 507.54h-1.25M147.14 504.8h2.1M245.28 504.8h-2.1M147.14 502.05h1.25M245.28 502.05h-1.25M147.14 499.31h1.25M245.28 499.31h-1.25M147.14 496.56h1.25M245.28 496.56h-1.25M147.14 493.82h1.25M245.28 493.82h-1.25M147.14 491.07h1.25M245.28 491.07h-1.25M147.14 488.33h1.25M245.28 488.33h-1.25M147.14 485.58h1.25M245.28 485.58h-1.25M147.14 482.84h1.25M245.28 482.84h-1.25M147.14 480.09h1.25M245.28 480.09h-1.25M147.14 477.35h2.1M245.28 477.35h-2.1M147.14 474.6h1.25M245.28 474.6h-1.25M147.14 471.86h1.25M245.28 471.86h-1.25M147.14 469.11h1.25M245.28 469.11h-1.25M147.14 466.37h1.25M245.28 466.37h-1.25M147.14 463.62h1.25M245.28 463.62h-1.25M147.14 460.88h1.25M245.28 460.88h-1.25M147.14 458.13h1.25M245.28 458.13h-1.25M147.14 455.39h1.25M245.28 455.39h-1.25" stroke="#000" stroke-width="0.8" fill="none"/>
<g clip-path="url(#c52)">
<polygon points="147.4,555.79 150.19,552.79 155.98,546.21 161.77,551.8 167.56,552.79 173.35,545.81 179.13,527.85 184.92,509.88 190.71,494.91 196.5,499.5 202.29,511.88 208.08,518.86 213.86,520.86 219.45,521.86 225.24,554.79 228.83,557.78 228.83,559.58 225.24,559.58 219.45,549.8 213.86,547.41 208.08,552.79 202.29,544.21 196.5,543.81 190.71,525.85 184.92,539.82 179.13,554.79 173.35,559.58 167.56,559.58 161.77,559.58 155.98,559.58 150.19,559.58 147.4,559.58" fill="#b6b6b6"/>
<polyline points="147.4,558.58 150.19,557.19 155.98,552.99 161.77,556.19 167.56,555.79 173.35,551.8 179.13,537.82 184.92,523.85 190.71,509.88 196.5,520.86 202.29,526.85 208.08,535.83 213.86,533.43 219.45,534.83 225.24,557.78 228.83,559.38" fill="none" stroke="#000" stroke-width="0.85" stroke-linejoin="miter"/>
<polyline points="147.4,559.68 159.37,559.68 165.16,552.4 170.75,560.98 176.34,533.83 182.33,544.81 187.92,537.43 193.51,533.83 199.29,533.83 205.08,541.42 210.87,521.86 216.66,504.29 222.45,540.82 228.23,551.8" fill="none" stroke="#ff0000" stroke-width="1.9" stroke-linejoin="round" stroke-linecap="butt"/>
</g>
<path d="M179.33 455.59 V469.56 M176.28 464.66 L179.33 469.56 L182.38 464.66" fill="none" stroke="#ff0000" stroke-width="0.72" opacity="0.75"/>
<path d="M210.87 455.59 V469.56 M207.82 464.66 L210.87 469.56 L213.92 464.66" fill="none" stroke="#ff0000" stroke-width="0.72" opacity="0.75"/>
<path d="M182.93 455.59 V478.55 M179.43 472.75 L182.93 478.55 L186.43 472.75" fill="none" stroke="#0000ff" stroke-width="0.72" opacity="0.75"/>
<path d="M201.29 455.59 V478.55 M197.79 472.75 L201.29 478.55 L204.79 472.75" fill="none" stroke="#0000ff" stroke-width="0.72" opacity="0.75"/>
<rect x="245.28" y="452.7" width="98.14" height="107.2" fill="none" stroke="#000" stroke-width="1.05"/>
<path d="M245.28 452.7v2.1M245.28 559.9v-2.1M251.05 452.7v1.25M251.05 559.9v-1.25M256.83 452.7v1.25M256.83 559.9v-1.25M262.6 452.7v1.25M262.6 559.9v-1.25M268.37 452.7v1.25M268.37 559.9v-1.25M274.14 452.7v1.25M274.14 559.9v-1.25M279.92 452.7v1.25M279.92 559.9v-1.25M285.69 452.7v1.25M285.69 559.9v-1.25M291.46 452.7v1.25M291.46 559.9v-1.25M297.24 452.7v1.25M297.24 559.9v-1.25M303.01 452.7v2.1M303.01 559.9v-2.1M308.78 452.7v1.25M308.78 559.9v-1.25M314.56 452.7v1.25M314.56 559.9v-1.25M320.33 452.7v1.25M320.33 559.9v-1.25M326.1 452.7v1.25M326.1 559.9v-1.25M331.87 452.7v1.25M331.87 559.9v-1.25M337.65 452.7v1.25M337.65 559.9v-1.25M343.42 452.7v1.25M343.42 559.9v-1.25M245.28 559.7h2.1M343.42 559.7h-2.1M245.28 556.95h1.25M343.42 556.95h-1.25M245.28 554.21h1.25M343.42 554.21h-1.25M245.28 551.46h1.25M343.42 551.46h-1.25M245.28 548.72h1.25M343.42 548.72h-1.25M245.28 545.97h1.25M343.42 545.97h-1.25M245.28 543.23h1.25M343.42 543.23h-1.25M245.28 540.48h1.25M343.42 540.48h-1.25M245.28 537.74h1.25M343.42 537.74h-1.25M245.28 534.99h1.25M343.42 534.99h-1.25M245.28 532.25h2.1M343.42 532.25h-2.1M245.28 529.5h1.25M343.42 529.5h-1.25M245.28 526.76h1.25M343.42 526.76h-1.25M245.28 524.01h1.25M343.42 524.01h-1.25M245.28 521.27h1.25M343.42 521.27h-1.25M245.28 518.52h1.25M343.42 518.52h-1.25M245.28 515.78h1.25M343.42 515.78h-1.25M245.28 513.03h1.25M343.42 513.03h-1.25M245.28 510.29h1.25M343.42 510.29h-1.25M245.28 507.54h1.25M343.42 507.54h-1.25M245.28 504.8h2.1M343.42 504.8h-2.1M245.28 502.05h1.25M343.42 502.05h-1.25M245.28 499.31h1.25M343.42 499.31h-1.25M245.28 496.56h1.25M343.42 496.56h-1.25M245.28 493.82h1.25M343.42 493.82h-1.25M245.28 491.07h1.25M343.42 491.07h-1.25M245.28 488.33h1.25M343.42 488.33h-1.25M245.28 485.58h1.25M343.42 485.58h-1.25M245.28 482.84h1.25M343.42 482.84h-1.25M245.28 480.09h1.25M343.42 480.09h-1.25M245.28 477.35h2.1M343.42 477.35h-2.1M245.28 474.6h1.25M343.42 474.6h-1.25M245.28 471.86h1.25M343.42 471.86h-1.25M245.28 469.11h1.25M343.42 469.11h-1.25M245.28 466.37h1.25M343.42 466.37h-1.25M245.28 463.62h1.25M343.42 463.62h-1.25M245.28 460.88h1.25M343.42 460.88h-1.25M245.28 458.13h1.25M343.42 458.13h-1.25M245.28 455.39h1.25M343.42 455.39h-1.25" stroke="#000" stroke-width="0.8" fill="none"/>
<g clip-path="url(#c53)">
<polygon points="245.4,556.79 248.39,555.79 254.18,553.79 259.97,554.19 265.76,551.8 271.55,549.8 277.33,525.85 283.12,501.5 288.91,501.5 294.7,501.5 300.49,524.85 306.08,528.84 311.86,521.86 317.65,545.81 323.44,555.79 326.83,558.78 326.83,559.58 323.44,559.58 317.65,553.79 311.86,536.83 306.08,541.82 300.49,539.82 294.7,526.25 288.91,527.45 283.12,524.85 277.33,544.81 271.55,557.78 265.76,556.79 259.97,558.78 254.18,558.18 248.39,559.18 245.4,559.58" fill="#b6b6b6"/>
<polyline points="245.4,558.18 248.39,557.38 254.18,555.79 259.97,556.19 265.76,553.79 271.55,553.79 277.33,535.83 283.12,513.47 288.91,514.27 294.7,514.27 300.49,531.84 306.08,534.83 311.86,528.84 317.65,549.8 323.44,557.78 326.83,559.38" fill="none" stroke="#000" stroke-width="0.85" stroke-linejoin="miter"/>
<polyline points="253.98,557.38 259.97,552.79 265.76,549.8 271.55,545.41 277.33,541.42 283.12,540.82 288.91,535.83 294.7,533.43 300.49,506.29 306.08,539.82 311.86,531.84 317.65,538.82 323.44,531.84 329.23,557.78 335.02,559.18 342.4,559.38" fill="none" stroke="#ff0000" stroke-width="1.9" stroke-linejoin="round" stroke-linecap="butt"/>
</g>
<path d="M277.33 455.59 V469.56 M274.28 464.66 L277.33 469.56 L280.38 464.66" fill="none" stroke="#ff0000" stroke-width="0.72" opacity="0.75"/>
<path d="M308.87 455.59 V469.56 M305.82 464.66 L308.87 469.56 L311.92 464.66" fill="none" stroke="#ff0000" stroke-width="0.72" opacity="0.75"/>
<path d="M279.53 455.59 V478.55 M276.03 472.75 L279.53 478.55 L283.03 472.75" fill="none" stroke="#0000ff" stroke-width="0.72" opacity="0.75"/>
<path d="M299.89 455.59 V478.55 M296.39 472.75 L299.89 478.55 L303.39 472.75" fill="none" stroke="#0000ff" stroke-width="0.72" opacity="0.75"/>
<rect x="343.42" y="452.7" width="98.14" height="107.2" fill="none" stroke="#000" stroke-width="1.05"/>
<path d="M343.42 452.7v2.1M343.42 559.9v-2.1M349.19 452.7v1.25M349.19 559.9v-1.25M354.97 452.7v1.25M354.97 559.9v-1.25M360.74 452.7v1.25M360.74 559.9v-1.25M366.51 452.7v1.25M366.51 559.9v-1.25M372.28 452.7v1.25M372.28 559.9v-1.25M378.06 452.7v1.25M378.06 559.9v-1.25M383.83 452.7v1.25M383.83 559.9v-1.25M389.6 452.7v1.25M389.6 559.9v-1.25M395.38 452.7v1.25M395.38 559.9v-1.25M401.15 452.7v2.1M401.15 559.9v-2.1M406.92 452.7v1.25M406.92 559.9v-1.25M412.7 452.7v1.25M412.7 559.9v-1.25M418.47 452.7v1.25M418.47 559.9v-1.25M424.24 452.7v1.25M424.24 559.9v-1.25M430.01 452.7v1.25M430.01 559.9v-1.25M435.79 452.7v1.25M435.79 559.9v-1.25M441.56 452.7v1.25M441.56 559.9v-1.25M343.42 559.7h2.1M441.56 559.7h-2.1M343.42 556.95h1.25M441.56 556.95h-1.25M343.42 554.21h1.25M441.56 554.21h-1.25M343.42 551.46h1.25M441.56 551.46h-1.25M343.42 548.72h1.25M441.56 548.72h-1.25M343.42 545.97h1.25M441.56 545.97h-1.25M343.42 543.23h1.25M441.56 543.23h-1.25M343.42 540.48h1.25M441.56 540.48h-1.25M343.42 537.74h1.25M441.56 537.74h-1.25M343.42 534.99h1.25M441.56 534.99h-1.25M343.42 532.25h2.1M441.56 532.25h-2.1M343.42 529.5h1.25M441.56 529.5h-1.25M343.42 526.76h1.25M441.56 526.76h-1.25M343.42 524.01h1.25M441.56 524.01h-1.25M343.42 521.27h1.25M441.56 521.27h-1.25M343.42 518.52h1.25M441.56 518.52h-1.25M343.42 515.78h1.25M441.56 515.78h-1.25M343.42 513.03h1.25M441.56 513.03h-1.25M343.42 510.29h1.25M441.56 510.29h-1.25M343.42 507.54h1.25M441.56 507.54h-1.25M343.42 504.8h2.1M441.56 504.8h-2.1M343.42 502.05h1.25M441.56 502.05h-1.25M343.42 499.31h1.25M441.56 499.31h-1.25M343.42 496.56h1.25M441.56 496.56h-1.25M343.42 493.82h1.25M441.56 493.82h-1.25M343.42 491.07h1.25M441.56 491.07h-1.25M343.42 488.33h1.25M441.56 488.33h-1.25M343.42 485.58h1.25M441.56 485.58h-1.25M343.42 482.84h1.25M441.56 482.84h-1.25M343.42 480.09h1.25M441.56 480.09h-1.25M343.42 477.35h2.1M441.56 477.35h-2.1M343.42 474.6h1.25M441.56 474.6h-1.25M343.42 471.86h1.25M441.56 471.86h-1.25M343.42 469.11h1.25M441.56 469.11h-1.25M343.42 466.37h1.25M441.56 466.37h-1.25M343.42 463.62h1.25M441.56 463.62h-1.25M343.42 460.88h1.25M441.56 460.88h-1.25M343.42 458.13h1.25M441.56 458.13h-1.25M343.42 455.39h1.25M441.56 455.39h-1.25" stroke="#000" stroke-width="0.8" fill="none"/>
<g clip-path="url(#c54)">
<polygon points="346.59,558.18 352.38,555.79 358.17,551.4 363.96,549.4 369.75,540.82 375.53,515.47 381.32,486.93 387.11,499.9 392.9,515.87 398.69,530.64 404.47,533.83 410.26,537.82 415.85,556.79 420.84,558.98 420.84,559.58 415.85,559.58 410.26,547.8 404.47,546.81 398.69,543.81 392.9,529.84 387.11,515.87 381.32,511.88 375.53,531.84 369.75,549.8 363.96,555.79 358.17,557.78 352.38,558.78 346.59,559.58" fill="#b6b6b6"/>
<polyline points="346.59,558.98 352.38,556.79 358.17,554.79 363.96,551.8 369.75,545.81 375.53,524.85 381.32,499.9 387.11,508.88 392.9,523.85 398.69,537.82 404.47,540.82 410.26,543.41 415.85,557.78 420.84,559.38" fill="none" stroke="#000" stroke-width="0.85" stroke-linejoin="miter"/>
<polyline points="356.97,557.38 362.56,549.4 368.35,533.83 373.94,523.85 379.92,502.9 385.51,522.86 391.3,538.22 397.09,540.22 402.88,554.79 408.47,532.24 414.25,532.24 420.04,557.78 425.83,558.78 430.82,557.38" fill="none" stroke="#ff0000" stroke-width="1.9" stroke-linejoin="round" stroke-linecap="butt"/>
</g>
<path d="M375.33 455.59 V469.56 M372.28 464.66 L375.33 469.56 L378.38 464.66" fill="none" stroke="#ff0000" stroke-width="0.72" opacity="0.75"/>
<path d="M406.87 455.59 V469.56 M403.82 464.66 L406.87 469.56 L409.92 464.66" fill="none" stroke="#ff0000" stroke-width="0.72" opacity="0.75"/>
<path d="M378.53 455.59 V478.55 M375.03 472.75 L378.53 478.55 L382.03 472.75" fill="none" stroke="#0000ff" stroke-width="0.72" opacity="0.75"/>
<path d="M396.49 455.59 V478.55 M392.99 472.75 L396.49 478.55 L399.99 472.75" fill="none" stroke="#0000ff" stroke-width="0.72" opacity="0.75"/>
<text x="54.05" y="20" font-size="10" textLength="23" lengthAdjust="spacingAndGlyphs">0.25</text>
<path d="M88.8 12.2 l-5.3 2.15 l5.3 2.05 M83.5 17.5 h5.4 M83.5 19 h5.4" fill="none" stroke="#000" stroke-width="1.12"/>
<text x="95.45" y="20" font-size="10" textLength="5.1" lengthAdjust="spacingAndGlyphs">z</text>
<path d="M112.8 12.2 l-5.3 2.15 l5.3 2.05 M107.5 17.5 h5.4 M107.5 19 h5.4" fill="none" stroke="#000" stroke-width="1.12"/>
<text x="118.55" y="20" font-size="10" textLength="22.7" lengthAdjust="spacingAndGlyphs">0.60</text>
<text x="155.85" y="20" font-size="10" textLength="22.8" lengthAdjust="spacingAndGlyphs">0.60</text>
<path d="M191 12.2 l-5.3 2.15 l5.3 2.05 M185.7 17.5 h5.4 M185.7 19 h5.4" fill="none" stroke="#000" stroke-width="1.12"/>
<text x="196.85" y="20" font-size="10" textLength="5.1" lengthAdjust="spacingAndGlyphs">z</text>
<path d="M214.4 12.2 l-5.3 2.15 l5.3 2.05 M209.1 17.5 h5.4 M209.1 19 h5.4" fill="none" stroke="#000" stroke-width="1.12"/>
<text x="220.15" y="20" font-size="10" textLength="15.9" lengthAdjust="spacingAndGlyphs">0.9</text>
<text x="257.75" y="127.3" font-size="10" textLength="15.7" lengthAdjust="spacingAndGlyphs">0.9</text>
<path d="M286 119.5 l-5.3 2.15 l5.3 2.05 M280.7 124.8 h5.4 M280.7 126.3 h5.4" fill="none" stroke="#000" stroke-width="1.12"/>
<text x="291.85" y="127.3" font-size="10" textLength="5.1" lengthAdjust="spacingAndGlyphs">z</text>
<path d="M309.4 119.5 l-5.3 2.15 l5.3 2.05 M304.1 124.8 h5.4 M304.1 126.3 h5.4" fill="none" stroke="#000" stroke-width="1.12"/>
<text x="316.55" y="127.3" font-size="10" textLength="14.5" lengthAdjust="spacingAndGlyphs">1.2</text>
<text x="356.75" y="234.5" font-size="10" textLength="14.7" lengthAdjust="spacingAndGlyphs">1.2</text>
<path d="M384.2 226.7 l-5.3 2.15 l5.3 2.05 M378.9 232 h5.4 M378.9 233.5 h5.4" fill="none" stroke="#000" stroke-width="1.12"/>
<text x="390.15" y="234.5" font-size="10" textLength="5.1" lengthAdjust="spacingAndGlyphs">z</text>
<path d="M407.6 226.7 l-5.3 2.15 l5.3 2.05 M402.3 232 h5.4 M402.3 233.5 h5.4" fill="none" stroke="#000" stroke-width="1.12"/>
<text x="414.55" y="234.5" font-size="10" textLength="14.7" lengthAdjust="spacingAndGlyphs">1.5</text>
<text x="28.55" y="52.95" font-size="10" textLength="16.9" lengthAdjust="spacingAndGlyphs">0.3</text>
<text x="28.55" y="80.4" font-size="10" textLength="16.9" lengthAdjust="spacingAndGlyphs">0.2</text>
<text x="28.55" y="107.85" font-size="10" textLength="16.9" lengthAdjust="spacingAndGlyphs">0.1</text>
<text x="28.55" y="131.3" font-size="10" textLength="16.9" lengthAdjust="spacingAndGlyphs">0.0</text>
<text x="28.55" y="160.15" font-size="10" textLength="16.9" lengthAdjust="spacingAndGlyphs">0.3</text>
<text x="28.55" y="187.6" font-size="10" textLength="16.9" lengthAdjust="spacingAndGlyphs">0.2</text>
<text x="28.55" y="215.05" font-size="10" textLength="16.9" lengthAdjust="spacingAndGlyphs">0.1</text>
<text x="28.55" y="238.5" font-size="10" textLength="16.9" lengthAdjust="spacingAndGlyphs">0.0</text>
<text x="28.55" y="267.35" font-size="10" textLength="16.9" lengthAdjust="spacingAndGlyphs">0.3</text>
<text x="28.55" y="294.8" font-size="10" textLength="16.9" lengthAdjust="spacingAndGlyphs">0.2</text>
<text x="28.55" y="322.25" font-size="10" textLength="16.9" lengthAdjust="spacingAndGlyphs">0.1</text>
<text x="28.55" y="345.7" font-size="10" textLength="16.9" lengthAdjust="spacingAndGlyphs">0.0</text>
<text x="126.69" y="374.55" font-size="10" textLength="16.9" lengthAdjust="spacingAndGlyphs">0.3</text>
<text x="126.69" y="402" font-size="10" textLength="16.9" lengthAdjust="spacingAndGlyphs">0.2</text>
<text x="126.69" y="429.45" font-size="10" textLength="16.9" lengthAdjust="spacingAndGlyphs">0.1</text>
<text x="126.69" y="452.9" font-size="10" textLength="16.9" lengthAdjust="spacingAndGlyphs">0.0</text>
<text x="126.69" y="481.75" font-size="10" textLength="16.9" lengthAdjust="spacingAndGlyphs">0.3</text>
<text x="126.69" y="509.2" font-size="10" textLength="16.9" lengthAdjust="spacingAndGlyphs">0.2</text>
<text x="126.69" y="536.65" font-size="10" textLength="16.9" lengthAdjust="spacingAndGlyphs">0.1</text>
<text x="126.69" y="560.1" font-size="10" textLength="16.9" lengthAdjust="spacingAndGlyphs">0.0</text>
<text x="48.6" y="361.1" font-size="10" text-anchor="middle" >0</text>
<text x="106.2" y="361.1" font-size="10" text-anchor="middle" >1</text>
<text x="146.74" y="575.5" font-size="10" text-anchor="middle" >0</text>
<text x="204.34" y="575.5" font-size="10" text-anchor="middle" >1</text>
<text x="244.88" y="575.5" font-size="10" text-anchor="middle" >0</text>
<text x="302.48" y="575.5" font-size="10" text-anchor="middle" >1</text>
<text x="343.02" y="575.5" font-size="10" text-anchor="middle" >0</text>
<text x="400.62" y="575.5" font-size="10" text-anchor="middle" >1</text>
<text x="83.75" y="374.7" font-size="10" textLength="6.1" lengthAdjust="spacingAndGlyphs">u</text>
<path d="M92.7 369.1 v4 M90.9 370.1 l3.6 2 M90.9 372.1 l3.6 -2" stroke="#000" stroke-width="1.15" fill="none"/>
<path d="M96.3 371.4 h6.6" stroke="#000" stroke-width="1.0"/>
<text x="104.15" y="375.2" font-size="10" textLength="6.3" lengthAdjust="spacingAndGlyphs">g</text>
<path d="M111.9 366.5 v2.7" stroke="#000" stroke-width="1.0"/>
<text x="229.45" y="588.8" font-size="10" textLength="6.1" lengthAdjust="spacingAndGlyphs">u</text>
<path d="M238.4 583.2 v4 M236.6 584.2 l3.6 2 M236.6 586.2 l3.6 -2" stroke="#000" stroke-width="1.15" fill="none"/>
<path d="M242 585.5 h6.6" stroke="#000" stroke-width="1.0"/>
<text x="249.85" y="589.3" font-size="10" textLength="6.3" lengthAdjust="spacingAndGlyphs">g</text>
<path d="M257.6 580.6 v2.7" stroke="#000" stroke-width="1.0"/>
<text transform="translate(20 205) rotate(-90)" font-size="10" textLength="39.7" lengthAdjust="spacingAndGlyphs">fraction</text>
<text transform="translate(118.2 475.2) rotate(-90)" font-size="10" textLength="39.7" lengthAdjust="spacingAndGlyphs">fraction</text>
<g transform="translate(257.9 103.8) rotate(-90)"><text x="0" y="0" font-size="10" textLength="7.2" lengthAdjust="spacingAndGlyphs">M</text><text x="7.3" y="1.9" font-size="6.8" font-weight="bold" textLength="4.2" lengthAdjust="spacingAndGlyphs" style="stroke-width:0.7px">B</text><path d="M23.7 -8.3 l-6 2.35 l6 2.25 M17.8 -2.6 h6 M17.8 -0.8 h6" fill="none" stroke="#000" stroke-width="1.12"/><path d="M31.8 -3.45 h7.2" stroke="#000" stroke-width="1.1"/><text x="40.0" y="0" font-size="10" textLength="24.9" lengthAdjust="spacingAndGlyphs">19.0</text></g>
<g transform="translate(356.05 211) rotate(-90)"><text x="0" y="0" font-size="10" textLength="7.2" lengthAdjust="spacingAndGlyphs">M</text><text x="7.3" y="1.9" font-size="6.8" font-weight="bold" textLength="4.2" lengthAdjust="spacingAndGlyphs" style="stroke-width:0.7px">B</text><path d="M23.7 -8.3 l-6 2.35 l6 2.25 M17.8 -2.6 h6 M17.8 -0.8 h6" fill="none" stroke="#000" stroke-width="1.12"/><path d="M31.8 -3.45 h7.2" stroke="#000" stroke-width="1.1"/><text x="40.0" y="0" font-size="10" textLength="24.9" lengthAdjust="spacingAndGlyphs">19.5</text></g>
<g transform="translate(454.2 318.2) rotate(-90)"><text x="0" y="0" font-size="10" textLength="7.2" lengthAdjust="spacingAndGlyphs">M</text><text x="7.3" y="1.9" font-size="6.8" font-weight="bold" textLength="4.2" lengthAdjust="spacingAndGlyphs" style="stroke-width:0.7px">B</text><path d="M23.7 -8.3 l-6 2.35 l6 2.25 M17.8 -2.6 h6 M17.8 -0.8 h6" fill="none" stroke="#000" stroke-width="1.12"/><path d="M31.8 -3.45 h7.2" stroke="#000" stroke-width="1.1"/><text x="40.0" y="0" font-size="10" textLength="24.9" lengthAdjust="spacingAndGlyphs">20.0</text></g>
<g transform="translate(454.2 425.4) rotate(-90)"><text x="0" y="0" font-size="10" textLength="7.2" lengthAdjust="spacingAndGlyphs">M</text><text x="7.3" y="1.9" font-size="6.8" font-weight="bold" textLength="4.2" lengthAdjust="spacingAndGlyphs" style="stroke-width:0.7px">B</text><path d="M23.7 -8.3 l-6 2.35 l6 2.25 M17.8 -2.6 h6 M17.8 -0.8 h6" fill="none" stroke="#000" stroke-width="1.12"/><path d="M31.8 -3.45 h7.2" stroke="#000" stroke-width="1.1"/><text x="40.0" y="0" font-size="10" textLength="24.9" lengthAdjust="spacingAndGlyphs">20.5</text></g>
<g transform="translate(454.2 532.6) rotate(-90)"><text x="0" y="0" font-size="10" textLength="7.2" lengthAdjust="spacingAndGlyphs">M</text><text x="7.3" y="1.9" font-size="6.8" font-weight="bold" textLength="4.2" lengthAdjust="spacingAndGlyphs" style="stroke-width:0.7px">B</text><path d="M23.7 -8.3 l-6 2.35 l6 2.25 M17.8 -2.6 h6 M17.8 -0.8 h6" fill="none" stroke="#000" stroke-width="1.12"/><path d="M31.8 -3.45 h7.2" stroke="#000" stroke-width="1.1"/><text x="40.0" y="0" font-size="10" textLength="24.9" lengthAdjust="spacingAndGlyphs">21.0</text></g>
</g>
</svg>
</body></html>
